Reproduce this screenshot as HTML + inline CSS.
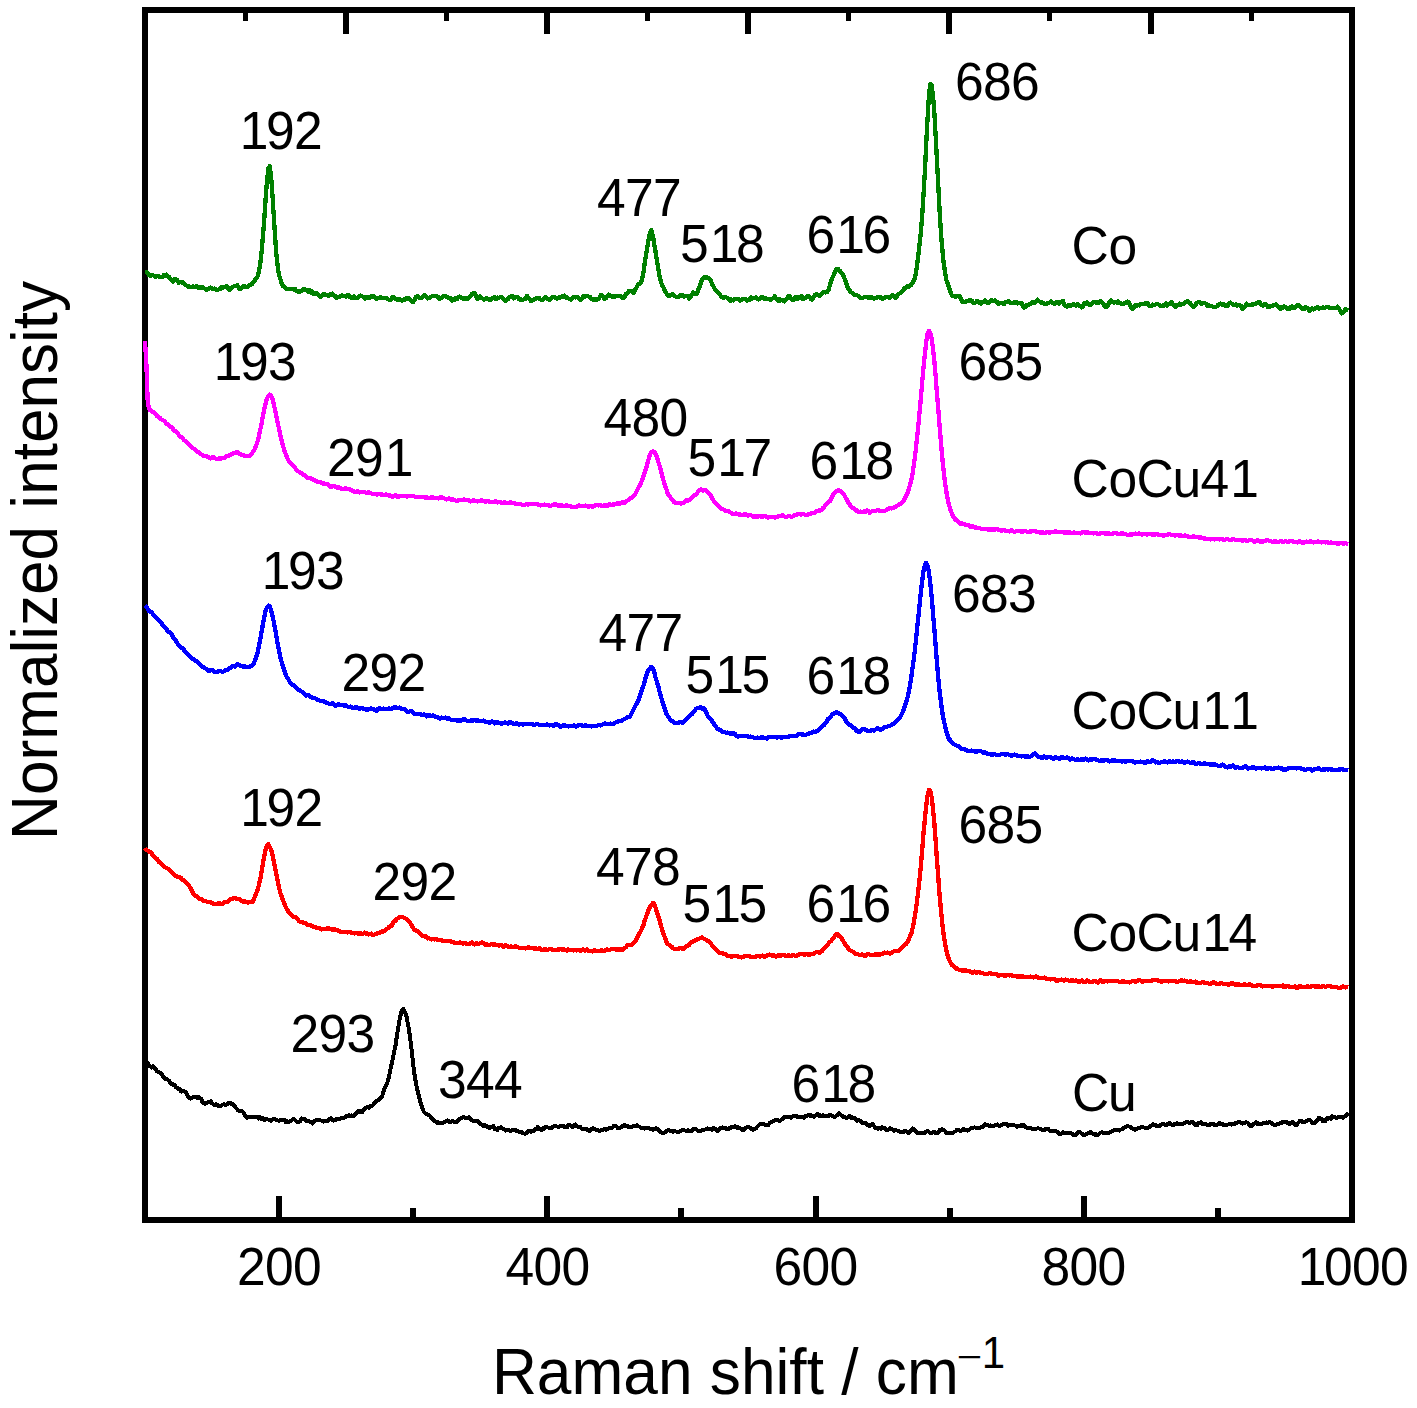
<!DOCTYPE html>
<html lang="en">
<head>
<meta charset="utf-8">
<title>Raman spectra</title>
<style>
html,body{margin:0;padding:0;background:#fff;}
body{width:1417px;height:1408px;overflow:hidden;font-family:"Liberation Sans",sans-serif;}
svg{display:block;}
</style>
</head>
<body>
<svg width="1417" height="1408" viewBox="0 0 1417 1408">
<rect width="1417" height="1408" fill="#fff"/>
<rect x="145" y="10" width="1207" height="1210" fill="none" stroke="#000" stroke-width="6"/>
<g fill="#000" shape-rendering="crispEdges"><rect x="243.1" y="12" width="5" height="9"/><rect x="343.1" y="12" width="6" height="22"/><rect x="444.1" y="12" width="5" height="9"/><rect x="544.2" y="12" width="6" height="22"/><rect x="645.2" y="12" width="5" height="9"/><rect x="745.3" y="12" width="6" height="22"/><rect x="846.4" y="12" width="5" height="9"/><rect x="946.4" y="12" width="6" height="22"/><rect x="1047.4" y="12" width="5" height="9"/><rect x="1147.5" y="12" width="6" height="22"/><rect x="1248.5" y="12" width="5" height="9"/><rect x="276.1" y="1196" width="6" height="22"/><rect x="410.2" y="1208" width="6" height="10"/><rect x="544.3" y="1196" width="6" height="22"/><rect x="678.4" y="1208" width="6" height="10"/><rect x="812.5" y="1196" width="6" height="22"/><rect x="946.6" y="1208" width="6" height="10"/><rect x="1080.7" y="1196" width="6" height="22"/><rect x="1214.8" y="1208" width="6" height="10"/></g>
<g fill="none" stroke-linejoin="round" stroke-linecap="butt" shape-rendering="crispEdges">
<path stroke="#000000" stroke-width="4.0" d="M145.0 1059.2L146.3 1061.5L147.7 1063.2L149.0 1065.5L150.4 1066.5L151.7 1067.5L153.0 1066.4L154.4 1067.9L155.7 1068.5L157.1 1071.5L158.4 1071.9L159.7 1072.4L161.1 1073.1L162.4 1074.8L163.8 1077.7L165.1 1078.7L166.4 1078.8L167.8 1079.8L169.1 1080.7L170.5 1083.6L171.8 1083.7L173.1 1084.7L174.5 1085.0L175.8 1087.1L177.2 1087.7L178.5 1089.0L179.8 1088.8L181.2 1091.6L182.5 1091.3L183.9 1091.4L185.2 1091.6L186.5 1093.3L187.9 1096.4L189.2 1098.0L190.6 1098.6L191.9 1097.8L193.2 1097.1L194.6 1097.1L195.9 1097.3L197.3 1098.0L198.6 1097.1L199.9 1098.3L201.3 1098.9L202.6 1102.6L204.0 1103.5L205.3 1103.7L206.6 1102.9L208.0 1102.0L209.3 1102.4L210.7 1101.2L212.0 1103.3L213.3 1104.3L214.7 1105.1L216.0 1104.4L217.4 1104.8L218.7 1106.1L220.0 1106.5L221.4 1105.4L222.7 1104.6L224.1 1104.3L225.4 1105.1L226.7 1104.6L228.1 1103.4L229.4 1103.1L230.8 1102.8L232.1 1104.3L233.4 1104.4L234.8 1106.5L236.1 1108.2L237.5 1109.7L238.8 1111.0L240.1 1110.5L241.5 1110.8L242.8 1111.7L244.2 1114.1L245.5 1116.2L246.8 1117.8L248.2 1117.5L249.5 1117.2L250.9 1116.9L252.2 1117.1L253.5 1117.4L254.9 1116.5L256.2 1117.5L257.6 1117.2L258.9 1118.5L260.2 1117.3L261.6 1119.0L262.9 1118.3L264.3 1120.0L265.6 1118.6L266.9 1119.2L268.3 1119.6L269.6 1120.2L271.0 1120.7L272.3 1119.7L273.6 1118.9L275.0 1119.1L276.3 1119.7L277.7 1120.5L279.0 1120.8L280.3 1120.0L281.7 1120.1L283.0 1119.8L284.4 1119.9L285.7 1122.0L287.0 1121.1L288.4 1122.0L289.7 1121.2L291.1 1120.9L292.4 1119.4L293.7 1119.1L295.1 1120.1L296.4 1121.4L297.8 1121.8L299.1 1121.9L300.4 1121.0L301.8 1118.5L303.1 1118.9L304.5 1119.0L305.8 1120.9L307.1 1120.9L308.5 1120.6L309.8 1121.5L311.2 1122.0L312.5 1123.4L313.8 1121.6L315.2 1120.6L316.5 1119.7L317.9 1120.2L319.2 1119.7L320.5 1120.3L321.9 1120.7L323.2 1121.6L324.6 1120.9L325.9 1121.5L327.2 1121.4L328.6 1119.9L329.9 1118.6L331.3 1118.3L332.6 1120.5L333.9 1120.5L335.3 1120.2L336.6 1119.0L338.0 1119.4L339.3 1119.0L340.6 1118.7L342.0 1117.5L343.3 1117.8L344.7 1117.4L346.0 1116.4L347.3 1115.9L348.7 1115.3L350.0 1116.0L351.4 1115.3L352.7 1115.9L354.0 1115.7L355.4 1114.5L356.7 1112.9L358.1 1110.8L359.4 1111.6L360.7 1111.3L362.1 1112.3L363.4 1110.4L364.8 1108.2L366.1 1107.6L367.4 1107.2L368.8 1107.9L370.1 1106.2L371.5 1105.8L372.8 1105.2L374.1 1103.3L375.5 1102.5L376.8 1100.7L378.2 1100.0L379.5 1098.9L380.8 1098.0L382.2 1095.9L383.5 1091.2L384.9 1087.8L386.2 1085.0L387.5 1082.2L388.9 1076.8L390.2 1070.7L391.6 1064.0L392.9 1058.1L394.2 1051.7L395.6 1045.0L396.9 1036.0L398.3 1027.4L399.6 1019.5L400.9 1013.5L402.3 1009.4L403.5 1009.2L403.6 1009.7L405.0 1012.2L406.3 1015.3L407.6 1022.4L409.0 1029.6L410.3 1039.6L411.7 1050.5L413.0 1063.0L414.3 1073.3L415.7 1081.7L417.0 1088.3L418.4 1093.9L419.7 1099.1L421.0 1104.2L422.4 1108.0L423.7 1111.7L425.1 1113.1L426.4 1114.3L427.7 1114.6L429.1 1115.2L430.4 1116.3L431.8 1118.3L433.1 1119.7L434.4 1121.2L435.8 1121.5L437.1 1122.7L438.5 1122.5L439.8 1122.9L441.1 1122.5L442.5 1123.0L443.8 1122.5L445.2 1121.5L446.5 1121.0L447.8 1120.5L449.2 1121.7L450.5 1121.7L451.9 1121.4L453.2 1121.3L454.5 1122.0L455.9 1122.1L457.2 1121.8L458.6 1120.1L459.9 1118.9L461.2 1117.9L462.6 1117.5L463.9 1117.1L465.3 1117.8L466.6 1117.8L467.9 1117.7L469.3 1117.3L470.6 1119.0L472.0 1120.3L473.3 1121.4L474.6 1120.7L476.0 1121.1L477.3 1120.7L478.7 1121.6L480.0 1123.8L481.3 1124.2L482.7 1125.9L484.0 1124.7L485.4 1125.8L486.7 1125.8L488.0 1127.2L489.4 1127.9L490.7 1126.7L492.1 1126.8L493.4 1126.2L494.7 1129.1L496.1 1129.0L497.4 1130.0L498.8 1127.9L500.1 1127.9L501.4 1127.2L502.8 1128.8L504.1 1129.2L505.5 1130.6L506.8 1129.8L508.1 1129.9L509.5 1130.6L510.8 1130.7L512.2 1130.1L513.5 1129.7L514.8 1129.7L516.2 1130.7L517.5 1131.2L518.9 1131.6L520.2 1132.5L521.5 1131.6L522.9 1133.2L524.2 1133.5L525.6 1133.7L526.9 1132.6L528.2 1131.1L529.6 1131.3L530.9 1131.9L532.3 1131.2L533.6 1131.3L534.9 1129.3L536.3 1129.3L537.6 1127.2L539.0 1129.1L540.3 1129.4L541.6 1130.4L543.0 1128.4L544.3 1128.8L545.7 1127.0L547.0 1127.2L548.3 1127.6L549.7 1128.4L551.0 1128.2L552.4 1127.0L553.7 1126.5L555.0 1126.3L556.4 1126.3L557.7 1126.8L559.1 1126.9L560.4 1126.0L561.7 1126.0L563.1 1125.8L564.4 1127.0L565.8 1127.3L567.1 1127.2L568.4 1124.9L569.8 1125.0L571.1 1125.8L572.5 1127.0L573.8 1125.5L575.1 1124.5L576.5 1125.9L577.8 1126.7L579.2 1127.4L580.5 1127.2L581.8 1128.9L583.2 1129.4L584.5 1129.4L585.9 1128.5L587.2 1129.7L588.5 1130.6L589.9 1131.1L591.2 1129.3L592.6 1128.3L593.9 1128.8L595.2 1129.3L596.6 1130.3L597.9 1130.2L599.3 1130.7L600.6 1130.5L601.9 1130.4L603.3 1129.5L604.6 1128.6L606.0 1129.6L607.3 1129.1L608.6 1128.7L610.0 1127.6L611.3 1128.0L612.7 1127.5L614.0 1125.7L615.3 1125.9L616.7 1126.8L618.0 1128.3L619.4 1127.8L620.7 1127.7L622.0 1126.0L623.4 1126.0L624.7 1124.9L626.1 1125.7L627.4 1126.1L628.7 1127.3L630.1 1126.7L631.4 1127.1L632.8 1126.3L634.1 1126.5L635.4 1125.7L636.8 1125.3L638.1 1126.2L639.5 1126.7L640.8 1127.8L642.1 1128.3L643.5 1128.2L644.8 1128.6L646.2 1127.6L647.5 1128.1L648.8 1127.8L650.2 1128.7L651.5 1128.9L652.9 1129.8L654.2 1129.2L655.5 1128.5L656.9 1128.4L658.2 1129.9L659.6 1131.3L660.9 1132.2L662.2 1132.8L663.6 1133.0L664.9 1132.5L666.3 1131.1L667.6 1130.2L668.9 1129.9L670.3 1130.7L671.6 1131.4L673.0 1131.6L674.3 1131.3L675.6 1131.5L677.0 1131.6L678.3 1131.8L679.7 1131.5L681.0 1130.9L682.3 1130.0L683.7 1130.0L685.0 1130.5L686.4 1130.9L687.7 1130.2L689.0 1131.2L690.4 1130.8L691.7 1130.8L693.1 1129.4L694.4 1129.0L695.7 1129.1L697.1 1130.0L698.4 1131.2L699.8 1131.4L701.1 1130.5L702.4 1129.9L703.8 1130.0L705.1 1129.5L706.5 1129.0L707.8 1128.4L709.1 1129.0L710.5 1129.4L711.8 1129.7L713.2 1127.9L714.5 1128.4L715.8 1129.4L717.2 1131.4L718.5 1130.4L719.9 1128.4L721.2 1127.7L722.5 1127.3L723.9 1128.2L725.2 1127.7L726.6 1128.9L727.9 1129.2L729.2 1128.3L730.6 1127.8L731.9 1126.5L733.3 1126.9L734.6 1126.3L735.9 1126.5L737.3 1128.0L738.6 1127.4L740.0 1128.2L741.3 1128.7L742.6 1130.0L744.0 1129.6L745.3 1128.3L746.7 1127.1L748.0 1127.1L749.3 1127.2L750.7 1128.4L752.0 1129.5L753.4 1129.6L754.7 1129.2L756.0 1128.3L757.4 1126.7L758.7 1125.4L760.1 1123.8L761.4 1123.8L762.7 1124.5L764.1 1124.0L765.4 1125.0L766.8 1125.0L768.1 1125.2L769.4 1123.3L770.8 1122.3L772.1 1121.8L773.5 1120.9L774.8 1120.3L776.1 1119.8L777.5 1120.2L778.8 1120.6L780.2 1120.6L781.5 1119.7L782.8 1118.5L784.2 1116.9L785.5 1117.4L786.9 1116.5L788.2 1117.3L789.5 1116.9L790.9 1117.8L792.2 1116.9L793.6 1115.6L794.9 1115.9L796.2 1115.7L797.6 1117.4L798.9 1116.5L800.3 1117.0L801.6 1117.3L802.9 1117.3L804.3 1117.7L805.6 1115.6L807.0 1116.0L808.3 1114.9L809.6 1115.8L811.0 1115.2L812.3 1115.6L813.7 1116.7L815.0 1115.6L816.3 1115.4L817.7 1113.9L819.0 1115.8L820.4 1115.5L821.7 1116.2L823.0 1115.3L824.4 1116.0L825.7 1116.4L827.1 1116.5L828.4 1116.1L829.7 1114.7L831.1 1115.2L832.4 1115.8L833.8 1116.5L835.1 1117.1L836.4 1115.4L837.8 1114.7L839.1 1113.3L840.5 1114.4L841.8 1115.7L843.1 1116.7L844.5 1117.1L845.8 1117.7L847.2 1117.6L848.5 1117.1L849.8 1116.0L851.2 1117.8L852.5 1117.4L853.9 1118.4L855.2 1118.4L856.5 1120.6L857.9 1120.6L859.2 1120.2L860.6 1121.0L861.9 1122.8L863.2 1122.7L864.6 1123.2L865.9 1123.1L867.3 1124.9L868.6 1125.7L869.9 1125.7L871.3 1124.5L872.6 1124.2L874.0 1125.9L875.3 1127.7L876.6 1127.9L878.0 1128.7L879.3 1128.0L880.7 1128.8L882.0 1127.3L883.3 1128.4L884.7 1128.2L886.0 1129.9L887.4 1129.6L888.7 1129.5L890.0 1127.9L891.4 1129.1L892.7 1129.4L894.1 1130.9L895.4 1130.1L896.7 1130.4L898.1 1130.9L899.4 1131.6L900.8 1132.4L902.1 1132.1L903.4 1132.1L904.8 1130.8L906.1 1131.2L907.5 1131.6L908.8 1133.3L910.1 1131.5L911.5 1130.4L912.8 1128.5L914.2 1129.3L915.5 1131.0L916.8 1132.8L918.2 1133.4L919.5 1132.9L920.9 1133.0L922.2 1132.9L923.5 1133.1L924.9 1132.8L926.2 1131.6L927.6 1131.2L928.9 1132.0L930.2 1133.1L931.6 1133.3L932.9 1132.1L934.3 1132.1L935.6 1132.9L936.9 1133.1L938.3 1132.8L939.6 1130.1L941.0 1129.9L942.3 1129.3L943.6 1130.2L945.0 1131.0L946.3 1132.7L947.7 1132.6L949.0 1132.7L950.3 1132.5L951.7 1133.2L953.0 1133.1L954.4 1131.7L955.7 1131.3L957.0 1129.7L958.4 1129.8L959.7 1130.9L961.1 1130.7L962.4 1130.4L963.7 1129.0L965.1 1129.6L966.4 1129.8L967.8 1130.6L969.1 1129.6L970.4 1128.7L971.8 1127.5L973.1 1127.6L974.5 1127.4L975.8 1127.6L977.1 1128.3L978.5 1128.2L979.8 1127.7L981.2 1127.1L982.5 1126.8L983.8 1126.0L985.2 1124.2L986.5 1124.7L987.9 1125.4L989.2 1125.8L990.5 1125.5L991.9 1125.9L993.2 1126.5L994.6 1125.6L995.9 1124.8L997.2 1124.4L998.6 1125.7L999.9 1125.7L1001.3 1125.2L1002.6 1124.6L1003.9 1123.7L1005.3 1124.1L1006.6 1124.1L1008.0 1125.6L1009.3 1125.1L1010.6 1125.3L1012.0 1124.5L1013.3 1124.6L1014.7 1125.4L1016.0 1125.8L1017.3 1126.9L1018.7 1125.9L1020.0 1126.4L1021.4 1125.1L1022.7 1125.7L1024.0 1125.4L1025.4 1127.0L1026.7 1127.5L1028.1 1127.9L1029.4 1128.2L1030.7 1128.3L1032.1 1128.9L1033.4 1129.0L1034.8 1129.0L1036.1 1128.6L1037.4 1128.5L1038.8 1128.4L1040.1 1128.9L1041.5 1129.6L1042.8 1130.5L1044.1 1130.2L1045.5 1128.9L1046.8 1128.5L1048.2 1128.9L1049.5 1130.6L1050.8 1130.6L1052.2 1130.8L1053.5 1130.8L1054.9 1131.0L1056.2 1131.2L1057.5 1132.1L1058.9 1133.6L1060.2 1134.3L1061.6 1133.6L1062.9 1132.3L1064.2 1132.5L1065.6 1132.6L1066.9 1133.5L1068.3 1133.1L1069.6 1133.2L1070.9 1133.1L1072.3 1133.8L1073.6 1134.9L1075.0 1135.4L1076.3 1134.3L1077.6 1132.9L1079.0 1131.8L1080.3 1132.4L1081.7 1133.4L1083.0 1134.7L1084.3 1134.8L1085.7 1134.6L1087.0 1133.9L1088.4 1133.3L1089.7 1132.2L1091.0 1132.0L1092.4 1133.7L1093.7 1133.6L1095.1 1134.7L1096.4 1134.5L1097.7 1135.0L1099.1 1134.0L1100.4 1132.6L1101.8 1132.4L1103.1 1132.6L1104.4 1132.8L1105.8 1133.2L1107.1 1133.3L1108.5 1133.2L1109.8 1132.5L1111.1 1131.5L1112.5 1131.2L1113.8 1130.1L1115.2 1130.1L1116.5 1129.8L1117.8 1129.7L1119.2 1130.6L1120.5 1129.6L1121.9 1129.4L1123.2 1128.1L1124.5 1127.3L1125.9 1127.2L1127.2 1125.9L1128.6 1126.4L1129.9 1126.7L1131.2 1127.7L1132.6 1128.8L1133.9 1129.3L1135.3 1129.7L1136.6 1129.2L1137.9 1128.3L1139.3 1128.1L1140.6 1127.3L1142.0 1127.0L1143.3 1127.2L1144.6 1127.8L1146.0 1128.2L1147.3 1127.6L1148.7 1127.5L1150.0 1126.4L1151.3 1125.7L1152.7 1124.3L1154.0 1125.1L1155.4 1124.6L1156.7 1126.1L1158.0 1126.2L1159.4 1126.0L1160.7 1125.0L1162.1 1123.8L1163.4 1124.2L1164.7 1124.4L1166.1 1125.3L1167.4 1123.9L1168.8 1123.3L1170.1 1123.3L1171.4 1124.6L1172.8 1125.5L1174.1 1124.2L1175.5 1124.3L1176.8 1123.1L1178.1 1123.9L1179.5 1123.8L1180.8 1124.5L1182.2 1124.0L1183.5 1123.8L1184.8 1122.6L1186.2 1122.0L1187.5 1122.2L1188.9 1122.8L1190.2 1122.7L1191.5 1121.8L1192.9 1121.8L1194.2 1123.8L1195.6 1124.9L1196.9 1125.4L1198.2 1123.3L1199.6 1122.6L1200.9 1122.4L1202.3 1123.8L1203.6 1124.1L1204.9 1123.7L1206.3 1124.5L1207.6 1125.2L1209.0 1125.3L1210.3 1123.6L1211.6 1124.0L1213.0 1123.7L1214.3 1125.1L1215.7 1125.0L1217.0 1124.8L1218.3 1124.2L1219.7 1122.8L1221.0 1123.8L1222.4 1123.8L1223.7 1125.2L1225.0 1125.3L1226.4 1125.1L1227.7 1124.6L1229.1 1124.1L1230.4 1123.9L1231.7 1124.6L1233.1 1124.3L1234.4 1124.2L1235.8 1122.9L1237.1 1122.8L1238.4 1121.8L1239.8 1122.4L1241.1 1122.6L1242.5 1123.6L1243.8 1122.7L1245.1 1122.6L1246.5 1122.3L1247.8 1122.7L1249.2 1124.8L1250.5 1125.9L1251.8 1126.3L1253.2 1123.9L1254.5 1123.4L1255.9 1122.2L1257.2 1123.7L1258.5 1123.5L1259.9 1124.3L1261.2 1123.8L1262.6 1123.6L1263.9 1122.6L1265.2 1123.0L1266.6 1122.5L1267.9 1122.7L1269.3 1122.2L1270.6 1122.6L1271.9 1123.5L1273.3 1124.3L1274.6 1124.8L1276.0 1124.8L1277.3 1124.1L1278.6 1124.4L1280.0 1123.1L1281.3 1123.2L1282.7 1122.0L1284.0 1122.3L1285.3 1122.0L1286.7 1122.3L1288.0 1123.3L1289.4 1123.9L1290.7 1122.6L1292.0 1122.1L1293.4 1122.5L1294.7 1124.4L1296.1 1125.2L1297.4 1123.9L1298.7 1122.3L1300.1 1120.6L1301.4 1120.8L1302.8 1122.2L1304.1 1122.3L1305.4 1121.5L1306.8 1121.0L1308.1 1120.2L1309.5 1120.0L1310.8 1120.7L1312.1 1123.0L1313.5 1123.0L1314.8 1123.0L1316.2 1121.1L1317.5 1120.5L1318.8 1117.8L1320.2 1118.6L1321.5 1118.7L1322.9 1121.4L1324.2 1120.8L1325.5 1121.0L1326.9 1118.2L1328.2 1118.7L1329.6 1118.2L1330.9 1119.0L1332.2 1116.4L1333.6 1117.0L1334.9 1117.4L1336.3 1118.2L1337.6 1117.4L1338.9 1116.7L1340.3 1117.4L1341.6 1117.2L1343.0 1117.7L1344.3 1116.6L1345.6 1115.9L1347.0 1114.2L1348.3 1112.5"/>
<path stroke="#ff0000" stroke-width="4.3" d="M145.0 847.8L146.3 850.1L147.7 850.6L149.0 851.4L150.4 852.2L151.7 853.4L153.0 855.6L154.4 857.3L155.7 857.9L157.1 859.1L158.4 861.4L159.7 862.7L161.1 863.1L162.4 865.0L163.8 866.6L165.1 867.3L166.4 868.0L167.8 868.6L169.1 869.5L170.5 871.0L171.8 872.4L173.1 873.7L174.5 874.9L175.8 875.8L177.2 876.6L178.5 877.0L179.8 877.0L181.2 878.2L182.5 879.7L183.9 880.7L185.2 882.1L186.5 883.1L187.9 884.1L189.2 886.0L190.6 888.4L191.9 890.6L193.2 893.2L194.6 895.3L195.9 895.8L197.3 896.8L198.6 898.6L199.9 899.0L201.3 899.2L202.6 900.5L204.0 901.2L205.3 900.8L206.6 901.5L208.0 902.4L209.3 902.1L210.7 902.4L212.0 903.2L213.3 903.7L214.7 903.7L216.0 904.4L217.4 904.2L218.7 903.2L220.0 903.6L221.4 903.9L222.7 903.7L224.1 902.5L225.4 901.9L226.7 902.0L228.1 901.6L229.4 900.3L230.8 899.1L232.1 899.0L233.4 898.0L234.8 897.7L236.1 898.9L237.5 899.2L238.8 898.9L240.1 899.9L241.5 901.1L242.8 901.6L244.2 901.4L245.5 901.4L246.8 902.4L248.2 902.4L249.5 901.7L250.9 902.0L252.2 902.3L253.5 900.3L254.9 896.6L256.2 893.5L257.6 890.0L258.9 885.1L260.2 879.3L261.6 871.9L262.9 863.6L264.3 856.4L265.6 850.0L266.9 845.7L268.3 844.1L268.6 845.3L269.6 847.0L271.0 849.1L272.3 853.7L273.6 860.2L275.0 866.9L276.3 873.7L277.7 880.6L279.0 887.3L280.3 892.8L281.7 896.8L283.0 900.4L284.4 903.5L285.7 906.8L287.0 909.4L288.4 911.8L289.7 913.3L291.1 914.7L292.4 916.2L293.7 916.9L295.1 917.1L296.4 917.5L297.8 919.5L299.1 921.3L300.4 921.8L301.8 922.2L303.1 922.6L304.5 922.8L305.8 923.3L307.1 924.4L308.5 925.3L309.8 925.3L311.2 925.5L312.5 926.3L313.8 927.0L315.2 926.8L316.5 927.7L317.9 928.4L319.2 928.0L320.5 928.8L321.9 929.4L323.2 929.0L324.6 929.0L325.9 928.8L327.2 928.5L328.6 928.2L329.9 929.1L331.3 929.4L332.6 929.4L333.9 930.0L335.3 929.5L336.6 929.9L338.0 930.6L339.3 931.1L340.6 931.9L342.0 932.0L343.3 931.9L344.7 931.8L346.0 931.9L347.3 932.4L348.7 932.2L350.0 932.3L351.4 932.7L352.7 933.0L354.0 933.4L355.4 933.3L356.7 933.0L358.1 933.6L359.4 933.4L360.7 932.9L362.1 934.3L363.4 933.5L364.8 932.6L366.1 934.0L367.4 933.6L368.8 934.4L370.1 934.0L371.5 933.5L372.8 935.1L374.1 934.7L375.5 933.9L376.8 933.5L378.2 932.9L379.5 932.8L380.8 932.3L382.2 931.3L383.5 931.6L384.9 930.5L386.2 929.1L387.5 928.6L388.9 927.1L390.2 926.3L391.6 925.7L392.9 923.2L394.2 921.6L395.6 920.5L396.9 918.9L398.3 918.1L399.6 917.2L400.9 917.0L402.3 916.9L402.3 916.9L403.6 917.5L405.0 918.1L406.3 919.0L407.6 919.8L409.0 921.1L410.3 923.1L411.7 925.6L413.0 927.8L414.3 929.5L415.7 930.2L417.0 930.9L418.4 932.2L419.7 933.4L421.0 934.8L422.4 936.1L423.7 935.9L425.1 936.0L426.4 937.5L427.7 938.4L429.1 938.3L430.4 939.1L431.8 939.4L433.1 939.1L434.4 939.4L435.8 939.0L437.1 939.7L438.5 940.2L439.8 939.9L441.1 940.2L442.5 940.9L443.8 941.3L445.2 941.2L446.5 940.7L447.8 940.8L449.2 941.0L450.5 941.3L451.9 942.1L453.2 942.1L454.5 942.9L455.9 943.2L457.2 942.8L458.6 942.7L459.9 942.5L461.2 942.9L462.6 943.6L463.9 942.8L465.3 942.8L466.6 943.7L467.9 943.7L469.3 943.8L470.6 943.0L472.0 942.5L473.3 943.8L474.6 944.5L476.0 943.3L477.3 943.4L478.7 943.9L480.0 943.2L481.3 942.5L482.7 942.7L484.0 943.9L485.4 944.6L486.7 944.5L488.0 944.8L489.4 945.2L490.7 944.4L492.1 944.1L493.4 944.8L494.7 944.5L496.1 944.7L497.4 945.3L498.8 945.5L500.1 945.1L501.4 945.2L502.8 946.7L504.1 946.6L505.5 945.2L506.8 945.9L508.1 946.9L509.5 947.1L510.8 946.5L512.2 946.8L513.5 947.1L514.8 946.4L516.2 946.5L517.5 947.1L518.9 947.7L520.2 948.1L521.5 947.9L522.9 948.1L524.2 948.3L525.6 948.4L526.9 947.9L528.2 947.0L529.6 948.0L530.9 948.1L532.3 947.8L533.6 948.4L534.9 948.4L536.3 948.3L537.6 949.2L539.0 948.4L540.3 948.3L541.6 950.3L543.0 950.0L544.3 949.1L545.7 949.5L547.0 950.3L548.3 949.6L549.7 948.9L551.0 949.4L552.4 949.6L553.7 949.8L555.0 949.9L556.4 949.7L557.7 949.5L559.1 949.5L560.4 949.3L561.7 949.5L563.1 949.8L564.4 949.4L565.8 950.1L567.1 950.6L568.4 949.4L569.8 950.0L571.1 950.3L572.5 950.1L573.8 950.4L575.1 950.3L576.5 950.4L577.8 950.1L579.2 950.1L580.5 951.1L581.8 950.3L583.2 949.5L584.5 950.6L585.9 950.1L587.2 949.4L588.5 950.7L589.9 951.1L591.2 951.1L592.6 951.4L593.9 950.6L595.2 950.6L596.6 950.8L597.9 951.1L599.3 950.9L600.6 950.5L601.9 950.4L603.3 950.8L604.6 951.0L606.0 950.0L607.3 949.4L608.6 949.8L610.0 949.7L611.3 949.3L612.7 949.1L614.0 949.0L615.3 949.4L616.7 949.7L618.0 949.4L619.4 949.6L620.7 949.3L622.0 949.4L623.4 949.5L624.7 948.1L626.1 947.0L627.4 945.2L628.7 944.7L630.1 945.1L631.4 945.0L632.8 943.4L634.1 942.1L635.4 941.0L636.8 938.7L638.1 935.7L639.5 933.1L640.8 931.1L642.1 928.1L643.5 924.8L644.8 920.2L646.2 916.5L647.5 913.2L648.8 909.4L650.2 906.6L651.5 904.9L652.6 904.0L652.9 903.1L654.2 903.7L655.5 907.4L656.9 912.1L658.2 916.1L659.6 920.5L660.9 925.3L662.2 930.1L663.6 934.0L664.9 937.3L666.3 941.3L667.6 944.0L668.9 944.8L670.3 945.6L671.6 946.6L673.0 948.1L674.3 949.1L675.6 949.0L677.0 948.8L678.3 948.7L679.7 948.1L681.0 948.4L682.3 948.6L683.7 948.6L685.0 947.6L686.4 945.9L687.7 945.8L689.0 945.0L690.4 943.2L691.7 941.9L693.1 941.5L694.4 941.0L695.7 940.0L697.1 939.4L698.4 939.1L699.8 938.3L701.1 937.7L702.0 937.5L702.4 937.8L703.8 938.7L705.1 939.2L706.5 940.0L707.8 941.0L709.1 941.5L710.5 942.7L711.8 944.9L713.2 946.9L714.5 948.5L715.8 949.6L717.2 950.5L718.5 952.0L719.9 953.0L721.2 953.0L722.5 953.2L723.9 954.1L725.2 954.3L726.6 954.8L727.9 955.9L729.2 955.8L730.6 956.4L731.9 956.7L733.3 955.9L734.6 956.1L735.9 955.9L737.3 956.3L738.6 956.6L740.0 957.1L741.3 957.4L742.6 956.9L744.0 956.6L745.3 955.8L746.7 955.8L748.0 956.0L749.3 956.4L750.7 956.6L752.0 956.9L753.4 957.1L754.7 956.7L756.0 956.5L757.4 956.1L758.7 956.2L760.1 956.5L761.4 955.8L762.7 955.6L764.1 956.9L765.4 956.6L766.8 955.4L768.1 955.0L769.4 954.5L770.8 955.2L772.1 955.7L773.5 955.3L774.8 956.0L776.1 956.8L777.5 955.7L778.8 955.1L780.2 955.7L781.5 955.4L782.8 955.3L784.2 955.2L785.5 955.6L786.9 955.8L788.2 955.3L789.5 955.6L790.9 955.8L792.2 955.5L793.6 955.2L794.9 955.7L796.2 955.8L797.6 955.0L798.9 954.4L800.3 954.3L801.6 954.2L802.9 954.3L804.3 954.8L805.6 953.9L807.0 953.7L808.3 954.7L809.6 954.6L811.0 953.8L812.3 954.1L813.7 954.0L815.0 952.7L816.3 952.2L817.7 952.3L819.0 952.6L820.4 952.4L821.7 951.4L823.0 949.5L824.4 948.0L825.7 946.9L827.1 945.6L828.4 943.6L829.7 941.9L831.1 941.1L832.4 939.2L833.8 937.4L835.1 935.8L836.4 934.2L837.6 934.0L837.8 935.1L839.1 936.2L840.5 936.8L841.8 938.7L843.1 940.8L844.5 943.2L845.8 945.7L847.2 946.9L848.5 948.8L849.8 950.2L851.2 950.8L852.5 951.5L853.9 952.7L855.2 953.8L856.5 954.1L857.9 954.2L859.2 955.0L860.6 955.1L861.9 954.3L863.2 955.0L864.6 955.9L865.9 955.6L867.3 954.3L868.6 953.9L869.9 954.8L871.3 955.0L872.6 955.3L874.0 954.7L875.3 954.3L876.6 954.5L878.0 954.6L879.3 954.7L880.7 954.5L882.0 954.1L883.3 953.0L884.7 952.6L886.0 952.8L887.4 952.6L888.7 953.0L890.0 953.7L891.4 953.1L892.7 951.8L894.1 951.3L895.4 951.0L896.7 951.1L898.1 951.0L899.4 950.0L900.8 949.0L902.1 947.1L903.4 945.9L904.8 945.0L906.1 943.9L907.5 942.4L908.8 939.4L910.1 935.9L911.5 932.8L912.8 927.4L914.2 919.9L915.5 912.3L916.8 902.9L918.2 891.6L919.5 879.4L920.9 866.0L922.2 849.8L923.5 833.4L924.9 818.9L926.2 805.6L927.6 795.5L928.9 790.2L929.5 790.2L930.2 791.1L931.6 796.7L932.9 807.9L934.3 822.8L935.6 840.1L936.9 859.1L938.3 877.7L939.6 894.9L941.0 910.5L942.3 923.6L943.6 934.4L945.0 943.3L946.3 950.5L947.7 955.8L949.0 959.1L950.3 962.2L951.7 964.8L953.0 965.5L954.4 967.0L955.7 968.5L957.0 968.5L958.4 969.4L959.7 969.9L961.1 969.6L962.4 970.7L963.7 970.8L965.1 970.1L966.4 971.1L967.8 971.0L969.1 970.8L970.4 971.6L971.8 972.7L973.1 972.4L974.5 971.6L975.8 972.4L977.1 972.6L978.5 972.0L979.8 972.3L981.2 972.9L982.5 973.1L983.8 973.6L985.2 974.0L986.5 973.9L987.9 973.7L989.2 973.3L990.5 973.2L991.9 973.9L993.2 973.9L994.6 974.0L995.9 974.0L997.2 974.7L998.6 976.0L999.9 975.3L1001.3 974.7L1002.6 974.9L1003.9 975.4L1005.3 975.8L1006.6 975.4L1008.0 975.3L1009.3 975.4L1010.6 975.2L1012.0 975.5L1013.3 975.7L1014.7 975.8L1016.0 976.2L1017.3 976.6L1018.7 976.6L1020.0 976.7L1021.4 976.5L1022.7 976.4L1024.0 976.8L1025.4 976.7L1026.7 977.0L1028.1 977.4L1029.4 976.7L1030.7 976.6L1032.1 976.9L1033.4 977.4L1034.8 977.3L1036.1 976.5L1037.4 976.8L1038.8 978.0L1040.1 978.2L1041.5 977.8L1042.8 978.2L1044.1 977.6L1045.5 977.8L1046.8 978.9L1048.2 979.1L1049.5 979.3L1050.8 979.4L1052.2 979.1L1053.5 979.2L1054.9 979.5L1056.2 980.5L1057.5 980.6L1058.9 980.1L1060.2 979.8L1061.6 979.5L1062.9 980.4L1064.2 980.4L1065.6 979.6L1066.9 980.1L1068.3 980.4L1069.6 981.3L1070.9 980.6L1072.3 980.0L1073.6 981.3L1075.0 980.8L1076.3 980.3L1077.6 981.0L1079.0 982.0L1080.3 981.5L1081.7 980.3L1083.0 981.1L1084.3 982.3L1085.7 981.9L1087.0 980.4L1088.4 981.1L1089.7 981.9L1091.0 981.8L1092.4 981.9L1093.7 981.3L1095.1 981.1L1096.4 981.8L1097.7 982.6L1099.1 981.2L1100.4 980.2L1101.8 981.8L1103.1 982.0L1104.4 980.7L1105.8 980.9L1107.1 981.4L1108.5 981.3L1109.8 981.1L1111.1 981.0L1112.5 981.0L1113.8 981.3L1115.2 981.1L1116.5 980.9L1117.8 981.1L1119.2 981.8L1120.5 981.9L1121.9 981.4L1123.2 981.4L1124.5 981.6L1125.9 981.8L1127.2 981.8L1128.6 982.1L1129.9 982.4L1131.2 981.7L1132.6 981.0L1133.9 981.3L1135.3 981.7L1136.6 981.3L1137.9 980.5L1139.3 979.8L1140.6 980.5L1142.0 981.5L1143.3 981.7L1144.6 980.9L1146.0 980.9L1147.3 981.2L1148.7 981.0L1150.0 981.3L1151.3 980.8L1152.7 980.4L1154.0 979.9L1155.4 979.8L1156.7 979.9L1158.0 980.4L1159.4 981.2L1160.7 981.4L1162.1 981.5L1163.4 980.9L1164.7 980.9L1166.1 981.0L1167.4 981.1L1168.8 981.4L1170.1 980.8L1171.4 980.7L1172.8 981.1L1174.1 981.1L1175.5 981.4L1176.8 982.3L1178.1 981.8L1179.5 981.1L1180.8 980.4L1182.2 980.5L1183.5 981.3L1184.8 980.6L1186.2 980.9L1187.5 982.1L1188.9 981.8L1190.2 981.5L1191.5 981.5L1192.9 982.0L1194.2 981.9L1195.6 981.5L1196.9 983.0L1198.2 983.2L1199.6 982.7L1200.9 982.7L1202.3 982.2L1203.6 982.3L1204.9 983.0L1206.3 982.7L1207.6 982.8L1209.0 983.8L1210.3 984.1L1211.6 983.1L1213.0 982.4L1214.3 982.5L1215.7 983.3L1217.0 984.3L1218.3 984.3L1219.7 983.7L1221.0 983.1L1222.4 983.5L1223.7 984.1L1225.0 983.8L1226.4 983.9L1227.7 984.6L1229.1 984.7L1230.4 984.1L1231.7 983.2L1233.1 983.5L1234.4 984.5L1235.8 984.6L1237.1 984.4L1238.4 984.3L1239.8 984.8L1241.1 985.1L1242.5 984.9L1243.8 984.6L1245.1 984.3L1246.5 984.8L1247.8 984.7L1249.2 984.2L1250.5 984.6L1251.8 985.6L1253.2 985.8L1254.5 986.0L1255.9 985.9L1257.2 985.3L1258.5 984.8L1259.9 984.8L1261.2 985.9L1262.6 986.4L1263.9 986.1L1265.2 986.3L1266.6 986.1L1267.9 985.8L1269.3 985.9L1270.6 986.3L1271.9 986.4L1273.3 986.4L1274.6 986.3L1276.0 985.9L1277.3 985.8L1278.6 985.7L1280.0 986.3L1281.3 985.9L1282.7 985.4L1284.0 987.2L1285.3 987.2L1286.7 985.9L1288.0 986.0L1289.4 987.0L1290.7 987.0L1292.0 986.8L1293.4 986.9L1294.7 986.5L1296.1 987.8L1297.4 988.0L1298.7 986.5L1300.1 986.3L1301.4 986.7L1302.8 987.1L1304.1 987.3L1305.4 987.2L1306.8 986.3L1308.1 986.5L1309.5 987.0L1310.8 986.6L1312.1 986.2L1313.5 986.1L1314.8 986.4L1316.2 986.6L1317.5 986.4L1318.8 986.4L1320.2 987.1L1321.5 986.6L1322.9 986.3L1324.2 986.4L1325.5 987.1L1326.9 986.4L1328.2 985.9L1329.6 986.3L1330.9 986.3L1332.2 987.3L1333.6 987.2L1334.9 986.9L1336.3 986.9L1337.6 987.6L1338.9 988.3L1340.3 988.0L1341.6 987.1L1343.0 986.2L1344.3 987.2L1345.6 987.5L1347.0 987.0L1348.3 987.2"/>
<path stroke="#0000ff" stroke-width="4.3" d="M145.0 605.8L146.3 607.1L147.7 608.7L149.0 611.1L150.4 611.8L151.7 612.5L153.0 614.2L154.4 616.0L155.7 616.9L157.1 618.6L158.4 619.7L159.7 620.7L161.1 623.0L162.4 624.5L163.8 626.4L165.1 627.5L166.4 629.1L167.8 631.1L169.1 632.1L170.5 633.3L171.8 634.7L173.1 637.1L174.5 638.9L175.8 640.4L177.2 643.0L178.5 645.0L179.8 646.8L181.2 647.7L182.5 648.0L183.9 649.9L185.2 651.9L186.5 653.2L187.9 654.3L189.2 655.6L190.6 657.2L191.9 658.1L193.2 659.1L194.6 660.1L195.9 661.0L197.3 662.0L198.6 663.4L199.9 664.2L201.3 665.6L202.6 666.9L204.0 667.6L205.3 668.5L206.6 668.8L208.0 670.4L209.3 670.9L210.7 669.8L212.0 669.8L213.3 670.4L214.7 671.8L216.0 672.1L217.4 671.7L218.7 671.2L220.0 670.9L221.4 671.5L222.7 672.0L224.1 671.1L225.4 670.3L226.7 670.3L228.1 669.1L229.4 668.3L230.8 668.0L232.1 666.3L233.4 666.0L234.8 666.5L236.1 665.5L237.5 664.3L238.8 665.0L240.1 665.7L241.5 665.8L242.8 666.6L244.2 666.4L245.5 666.6L246.8 667.0L248.2 666.7L249.5 666.7L250.9 666.1L252.2 665.6L253.5 663.9L254.9 660.8L256.2 657.0L257.6 652.5L258.9 646.4L260.2 639.2L261.6 632.0L262.9 624.2L264.3 616.9L265.6 610.7L266.9 607.3L268.3 606.2L268.9 605.6L269.6 605.8L271.0 609.7L272.3 615.1L273.6 620.8L275.0 628.1L276.3 635.8L277.7 643.7L279.0 650.4L280.3 657.0L281.7 662.2L283.0 666.4L284.4 670.5L285.7 674.4L287.0 677.5L288.4 679.1L289.7 681.7L291.1 683.9L292.4 684.6L293.7 685.2L295.1 686.3L296.4 687.6L297.8 689.2L299.1 690.0L300.4 690.7L301.8 691.7L303.1 692.5L304.5 693.8L305.8 695.5L307.1 695.2L308.5 695.2L309.8 696.5L311.2 697.3L312.5 697.6L313.8 697.9L315.2 698.4L316.5 699.2L317.9 700.2L319.2 700.3L320.5 700.9L321.9 701.3L323.2 700.9L324.6 701.6L325.9 702.8L327.2 702.9L328.6 703.5L329.9 704.4L331.3 703.9L332.6 703.3L333.9 704.7L335.3 706.0L336.6 705.2L338.0 704.4L339.3 704.6L340.6 705.2L342.0 705.0L343.3 705.4L344.7 705.7L346.0 705.4L347.3 706.5L348.7 706.9L350.0 706.6L351.4 707.3L352.7 707.9L354.0 707.6L355.4 707.4L356.7 707.3L358.1 708.2L359.4 709.0L360.7 707.9L362.1 707.7L363.4 708.7L364.8 709.0L366.1 709.6L367.4 710.1L368.8 709.2L370.1 708.7L371.5 708.5L372.8 708.8L374.1 709.5L375.5 710.6L376.8 710.6L378.2 708.6L379.5 708.3L380.8 709.3L382.2 709.0L383.5 708.6L384.9 708.9L386.2 709.3L387.5 709.2L388.9 708.5L390.2 708.8L391.6 708.7L392.9 708.0L394.2 707.5L395.6 707.2L396.9 708.1L398.3 707.7L399.6 707.6L400.9 708.8L402.3 709.0L403.6 709.2L405.0 709.4L406.3 710.3L407.6 711.7L409.0 711.7L410.3 711.0L411.7 710.9L413.0 712.5L414.3 714.0L415.7 714.1L417.0 714.2L418.4 714.2L419.7 713.8L421.0 714.4L422.4 714.9L423.7 714.5L425.1 714.9L426.4 716.4L427.7 715.7L429.1 714.8L430.4 715.7L431.8 716.2L433.1 715.2L434.4 716.1L435.8 717.4L437.1 717.1L438.5 718.1L439.8 718.6L441.1 717.6L442.5 717.7L443.8 717.8L445.2 717.6L446.5 718.4L447.8 718.7L449.2 718.5L450.5 719.5L451.9 720.2L453.2 720.0L454.5 720.0L455.9 720.0L457.2 720.5L458.6 720.4L459.9 720.7L461.2 720.4L462.6 719.6L463.9 719.5L465.3 719.6L466.6 720.5L467.9 721.4L469.3 721.0L470.6 720.4L472.0 720.7L473.3 720.4L474.6 720.2L476.0 720.6L477.3 720.5L478.7 720.6L480.0 721.4L481.3 721.1L482.7 720.8L484.0 720.6L485.4 721.9L486.7 722.0L488.0 721.9L489.4 722.8L490.7 722.1L492.1 721.4L493.4 722.1L494.7 723.4L496.1 722.6L497.4 721.8L498.8 722.8L500.1 723.1L501.4 723.6L502.8 723.3L504.1 722.7L505.5 722.5L506.8 723.3L508.1 723.6L509.5 721.8L510.8 722.2L512.2 723.1L513.5 724.1L514.8 724.1L516.2 723.3L517.5 723.8L518.9 724.5L520.2 724.3L521.5 724.2L522.9 724.5L524.2 724.0L525.6 723.9L526.9 724.1L528.2 723.7L529.6 724.3L530.9 724.2L532.3 724.2L533.6 725.3L534.9 724.8L536.3 724.2L537.6 724.2L539.0 724.7L540.3 725.2L541.6 725.2L543.0 725.4L544.3 725.0L545.7 724.8L547.0 724.4L548.3 724.7L549.7 725.5L551.0 725.0L552.4 725.5L553.7 726.0L555.0 724.4L556.4 724.1L557.7 724.8L559.1 725.2L560.4 727.0L561.7 726.3L563.1 725.3L564.4 725.5L565.8 725.6L567.1 726.1L568.4 726.5L569.8 725.8L571.1 726.0L572.5 726.0L573.8 725.5L575.1 726.4L576.5 726.6L577.8 725.7L579.2 725.1L580.5 725.3L581.8 725.5L583.2 726.2L584.5 725.7L585.9 725.3L587.2 726.1L588.5 726.1L589.9 726.0L591.2 726.4L592.6 726.3L593.9 726.0L595.2 726.0L596.6 726.3L597.9 725.2L599.3 724.9L600.6 725.5L601.9 724.7L603.3 724.3L604.6 723.5L606.0 723.6L607.3 723.9L608.6 724.1L610.0 723.6L611.3 723.8L612.7 724.3L614.0 723.3L615.3 722.6L616.7 722.0L618.0 721.5L619.4 721.2L620.7 721.2L622.0 720.8L623.4 719.6L624.7 718.8L626.1 718.2L627.4 717.3L628.7 717.3L630.1 716.2L631.4 713.6L632.8 710.8L634.1 708.2L635.4 705.7L636.8 703.7L638.1 700.9L639.5 697.1L640.8 693.2L642.1 689.0L643.5 685.4L644.8 680.7L646.2 675.7L647.5 671.9L648.8 669.7L650.2 668.0L651.0 666.9L651.5 666.8L652.9 668.1L654.2 671.8L655.5 677.5L656.9 681.6L658.2 686.1L659.6 691.9L660.9 696.2L662.2 700.8L663.6 705.6L664.9 709.3L666.3 713.5L667.6 715.7L668.9 717.2L670.3 719.9L671.6 720.8L673.0 721.6L674.3 722.8L675.6 723.2L677.0 723.1L678.3 723.3L679.7 722.0L681.0 721.9L682.3 723.2L683.7 722.3L685.0 720.9L686.4 719.0L687.7 717.4L689.0 716.4L690.4 714.9L691.7 714.3L693.1 712.8L694.4 711.0L695.7 709.2L697.1 708.1L698.4 708.2L699.8 707.6L700.8 707.2L701.1 708.4L702.4 708.7L703.8 708.5L705.1 710.1L706.5 712.9L707.8 716.1L709.1 717.8L710.5 718.7L711.8 720.4L713.2 723.0L714.5 724.6L715.8 726.3L717.2 728.7L718.5 729.3L719.9 729.9L721.2 731.1L722.5 732.2L723.9 732.0L725.2 732.3L726.6 733.0L727.9 732.6L729.2 733.1L730.6 733.7L731.9 733.5L733.3 733.2L734.6 733.5L735.9 735.0L737.3 736.5L738.6 736.4L740.0 736.3L741.3 736.1L742.6 735.8L744.0 736.3L745.3 736.1L746.7 735.8L748.0 736.5L749.3 736.9L750.7 736.6L752.0 737.0L753.4 737.5L754.7 737.9L756.0 738.1L757.4 737.6L758.7 737.7L760.1 737.7L761.4 737.4L762.7 737.3L764.1 737.8L765.4 738.3L766.8 738.5L768.1 737.4L769.4 736.7L770.8 737.1L772.1 737.3L773.5 737.3L774.8 736.9L776.1 737.4L777.5 737.6L778.8 736.7L780.2 737.1L781.5 737.9L782.8 737.0L784.2 736.9L785.5 736.7L786.9 736.7L788.2 736.8L789.5 735.9L790.9 735.7L792.2 735.7L793.6 735.8L794.9 736.1L796.2 735.9L797.6 735.4L798.9 733.7L800.3 733.8L801.6 734.4L802.9 734.3L804.3 735.3L805.6 735.1L807.0 734.2L808.3 733.7L809.6 733.5L811.0 732.9L812.3 732.3L813.7 731.6L815.0 731.8L816.3 731.4L817.7 730.5L819.0 729.5L820.4 728.1L821.7 726.9L823.0 725.7L824.4 724.7L825.7 723.0L827.1 720.7L828.4 718.5L829.7 717.8L831.1 716.3L832.4 714.0L833.8 713.6L835.1 713.3L836.4 712.5L836.5 711.9L837.8 712.8L839.1 713.9L840.5 714.3L841.8 715.6L843.1 716.5L844.5 717.9L845.8 720.5L847.2 723.0L848.5 724.3L849.8 725.1L851.2 725.7L852.5 727.1L853.9 727.9L855.2 729.0L856.5 730.6L857.9 731.8L859.2 731.9L860.6 730.5L861.9 729.9L863.2 728.7L864.6 728.8L865.9 730.1L867.3 730.7L868.6 731.0L869.9 730.7L871.3 730.4L872.6 730.3L874.0 730.6L875.3 729.7L876.6 728.7L878.0 728.3L879.3 729.0L880.7 729.8L882.0 729.2L883.3 727.8L884.7 727.1L886.0 727.1L887.4 726.6L888.7 726.1L890.0 725.7L891.4 724.9L892.7 724.3L894.1 723.7L895.4 722.2L896.7 720.8L898.1 719.4L899.4 718.1L900.8 716.1L902.1 713.5L903.4 710.5L904.8 706.2L906.1 702.5L907.5 697.6L908.8 691.5L910.1 685.0L911.5 675.9L912.8 665.9L914.2 655.8L915.5 644.2L916.8 631.3L918.2 618.7L919.5 605.6L920.9 592.3L922.2 580.5L923.5 571.0L924.9 564.8L926.2 562.7L926.2 563.3L927.6 565.8L928.9 572.2L930.2 582.2L931.6 596.0L932.9 612.2L934.3 628.7L935.6 645.1L936.9 661.8L938.3 678.3L939.6 691.5L941.0 702.3L942.3 712.4L943.6 719.3L945.0 725.6L946.3 731.4L947.7 735.8L949.0 739.0L950.3 740.3L951.7 742.0L953.0 743.7L954.4 744.5L955.7 745.3L957.0 745.6L958.4 746.1L959.7 747.5L961.1 748.9L962.4 749.3L963.7 748.9L965.1 749.5L966.4 750.2L967.8 750.7L969.1 751.1L970.4 750.7L971.8 750.6L973.1 751.1L974.5 751.4L975.8 751.7L977.1 751.5L978.5 750.8L979.8 751.1L981.2 751.4L982.5 751.9L983.8 752.9L985.2 752.4L986.5 752.8L987.9 754.1L989.2 754.0L990.5 754.4L991.9 755.3L993.2 754.2L994.6 754.0L995.9 754.8L997.2 754.7L998.6 755.0L999.9 754.7L1001.3 754.1L1002.6 754.2L1003.9 754.2L1005.3 754.6L1006.6 754.4L1008.0 754.1L1009.3 755.1L1010.6 755.6L1012.0 755.6L1013.3 754.9L1014.7 754.5L1016.0 755.2L1017.3 755.6L1018.7 755.7L1020.0 756.1L1021.4 756.4L1022.7 756.1L1024.0 756.2L1025.4 756.6L1026.7 756.4L1028.1 756.6L1029.4 757.1L1030.7 756.5L1032.1 755.7L1033.4 754.4L1034.8 753.5L1036.1 754.5L1037.4 756.0L1038.8 757.1L1040.1 757.3L1041.5 757.6L1042.8 757.7L1044.1 756.3L1045.5 757.0L1046.8 758.0L1048.2 757.0L1049.5 757.0L1050.8 757.2L1052.2 758.2L1053.5 758.9L1054.9 757.4L1056.2 757.5L1057.5 758.0L1058.9 758.7L1060.2 758.5L1061.6 756.8L1062.9 757.4L1064.2 758.2L1065.6 758.1L1066.9 757.4L1068.3 757.9L1069.6 759.6L1070.9 758.6L1072.3 758.5L1073.6 759.2L1075.0 759.7L1076.3 760.2L1077.6 759.2L1079.0 759.6L1080.3 760.0L1081.7 759.3L1083.0 759.5L1084.3 759.6L1085.7 758.6L1087.0 759.8L1088.4 760.4L1089.7 759.4L1091.0 759.7L1092.4 759.4L1093.7 758.8L1095.1 759.3L1096.4 759.7L1097.7 760.0L1099.1 760.8L1100.4 760.6L1101.8 760.4L1103.1 760.9L1104.4 760.3L1105.8 760.2L1107.1 760.3L1108.5 760.7L1109.8 761.4L1111.1 761.0L1112.5 760.3L1113.8 760.4L1115.2 760.6L1116.5 760.9L1117.8 761.3L1119.2 760.7L1120.5 761.1L1121.9 761.8L1123.2 761.2L1124.5 761.4L1125.9 761.6L1127.2 761.0L1128.6 761.2L1129.9 761.0L1131.2 760.8L1132.6 761.1L1133.9 762.0L1135.3 762.7L1136.6 761.9L1137.9 762.0L1139.3 762.1L1140.6 761.6L1142.0 762.0L1143.3 762.0L1144.6 762.7L1146.0 762.7L1147.3 761.1L1148.7 761.6L1150.0 761.9L1151.3 761.3L1152.7 760.2L1154.0 760.7L1155.4 762.4L1156.7 762.3L1158.0 762.4L1159.4 762.8L1160.7 762.4L1162.1 762.1L1163.4 761.8L1164.7 761.2L1166.1 762.0L1167.4 762.4L1168.8 761.4L1170.1 761.4L1171.4 761.9L1172.8 761.4L1174.1 761.7L1175.5 761.9L1176.8 761.1L1178.1 760.8L1179.5 762.2L1180.8 762.1L1182.2 761.5L1183.5 762.4L1184.8 762.7L1186.2 762.0L1187.5 761.6L1188.9 762.3L1190.2 762.9L1191.5 762.7L1192.9 761.9L1194.2 762.7L1195.6 763.8L1196.9 763.7L1198.2 763.1L1199.6 763.3L1200.9 763.7L1202.3 764.0L1203.6 763.6L1204.9 763.4L1206.3 764.0L1207.6 763.7L1209.0 764.0L1210.3 764.6L1211.6 764.5L1213.0 764.8L1214.3 764.5L1215.7 764.5L1217.0 765.4L1218.3 765.7L1219.7 766.1L1221.0 765.6L1222.4 764.6L1223.7 765.4L1225.0 766.3L1226.4 767.2L1227.7 767.4L1229.1 766.2L1230.4 766.4L1231.7 766.5L1233.1 765.6L1234.4 767.1L1235.8 768.0L1237.1 767.2L1238.4 767.4L1239.8 767.9L1241.1 767.9L1242.5 767.7L1243.8 767.2L1245.1 766.1L1246.5 767.2L1247.8 768.5L1249.2 768.2L1250.5 767.7L1251.8 767.6L1253.2 767.2L1254.5 767.9L1255.9 768.5L1257.2 768.1L1258.5 768.0L1259.9 768.3L1261.2 768.4L1262.6 768.3L1263.9 767.7L1265.2 767.6L1266.6 769.1L1267.9 768.7L1269.3 767.8L1270.6 768.4L1271.9 768.9L1273.3 768.8L1274.6 767.8L1276.0 767.8L1277.3 768.0L1278.6 767.5L1280.0 768.2L1281.3 768.5L1282.7 768.7L1284.0 770.2L1285.3 770.2L1286.7 769.2L1288.0 768.5L1289.4 768.0L1290.7 767.9L1292.0 768.0L1293.4 768.0L1294.7 768.0L1296.1 768.4L1297.4 768.3L1298.7 767.8L1300.1 767.7L1301.4 768.6L1302.8 769.2L1304.1 769.5L1305.4 769.9L1306.8 769.4L1308.1 769.3L1309.5 768.8L1310.8 769.5L1312.1 770.7L1313.5 769.7L1314.8 768.7L1316.2 769.0L1317.5 768.7L1318.8 768.2L1320.2 769.4L1321.5 769.8L1322.9 769.3L1324.2 769.7L1325.5 769.5L1326.9 769.2L1328.2 769.5L1329.6 769.0L1330.9 769.5L1332.2 769.4L1333.6 770.1L1334.9 770.3L1336.3 770.3L1337.6 770.1L1338.9 769.6L1340.3 769.6L1341.6 768.8L1343.0 769.4L1344.3 770.2L1345.6 769.7L1347.0 769.9L1348.3 770.1"/>
<path stroke="#ff00ff" stroke-width="4.3" d="M145.0 341.4L146.3 361.8L147.7 401.2L149.0 408.8L150.4 410.4L151.7 411.3L153.0 412.3L154.4 412.5L155.7 414.1L157.1 416.1L158.4 416.9L159.7 417.7L161.1 419.2L162.4 420.1L163.8 420.6L165.1 421.9L166.4 423.7L167.8 424.4L169.1 425.6L170.5 427.0L171.8 427.4L173.1 429.2L174.5 430.8L175.8 431.1L177.2 432.3L178.5 434.4L179.8 436.3L181.2 437.1L182.5 438.2L183.9 440.0L185.2 441.0L186.5 442.2L187.9 443.7L189.2 444.7L190.6 445.7L191.9 447.1L193.2 448.4L194.6 449.2L195.9 450.0L197.3 451.5L198.6 452.5L199.9 453.3L201.3 454.5L202.6 455.1L204.0 456.2L205.3 456.3L206.6 456.3L208.0 456.8L209.3 457.5L210.7 458.5L212.0 457.5L213.3 456.8L214.7 458.0L216.0 458.8L217.4 458.9L218.7 458.6L220.0 458.5L221.4 458.6L222.7 458.2L224.1 457.9L225.4 456.8L226.7 456.1L228.1 456.0L229.4 455.4L230.8 455.0L232.1 453.7L233.4 453.4L234.8 453.0L236.1 452.4L237.5 452.2L238.8 452.9L240.1 454.1L241.5 454.9L242.8 455.2L244.2 455.6L245.5 456.0L246.8 455.7L248.2 455.7L249.5 455.7L250.9 454.6L252.2 452.9L253.5 451.2L254.9 448.8L256.2 445.2L257.6 441.3L258.9 436.2L260.2 430.0L261.6 423.1L262.9 416.0L264.3 409.5L265.6 403.1L266.9 398.7L268.3 395.8L269.6 394.6L269.8 394.9L271.0 395.3L272.3 398.1L273.6 403.5L275.0 409.7L276.3 416.2L277.7 422.8L279.0 428.8L280.3 435.0L281.7 440.5L283.0 445.7L284.4 450.6L285.7 454.0L287.0 457.4L288.4 460.4L289.7 462.2L291.1 463.5L292.4 465.2L293.7 466.5L295.1 467.8L296.4 470.2L297.8 471.2L299.1 471.8L300.4 472.6L301.8 473.4L303.1 474.6L304.5 475.3L305.8 476.4L307.1 477.7L308.5 478.3L309.8 478.3L311.2 478.5L312.5 479.3L313.8 480.1L315.2 480.7L316.5 481.3L317.9 482.1L319.2 482.0L320.5 481.7L321.9 483.2L323.2 483.6L324.6 483.5L325.9 483.9L327.2 484.2L328.6 484.7L329.9 486.4L331.3 487.1L332.6 486.2L333.9 485.9L335.3 486.5L336.6 487.4L338.0 487.6L339.3 487.3L340.6 488.2L342.0 489.0L343.3 488.9L344.7 488.5L346.0 488.4L347.3 488.8L348.7 488.8L350.0 489.6L351.4 490.4L352.7 490.6L354.0 491.7L355.4 492.2L356.7 491.4L358.1 491.5L359.4 492.5L360.7 492.2L362.1 491.7L363.4 492.1L364.8 492.1L366.1 492.9L367.4 492.8L368.8 492.1L370.1 493.0L371.5 493.5L372.8 493.8L374.1 494.1L375.5 494.1L376.8 494.6L378.2 494.1L379.5 493.8L380.8 494.4L382.2 494.6L383.5 495.0L384.9 494.7L386.2 494.6L387.5 495.2L388.9 495.7L390.2 495.3L391.6 495.9L392.9 497.0L394.2 495.9L395.6 495.3L396.9 496.7L398.3 497.0L399.6 496.3L400.9 496.0L402.3 495.8L403.6 495.9L405.0 495.9L406.3 496.3L407.6 496.5L409.0 496.1L410.3 495.9L411.7 496.1L413.0 496.3L414.3 496.3L415.7 497.1L417.0 497.3L418.4 497.2L419.7 497.3L421.0 497.2L422.4 497.2L423.7 497.1L425.1 497.5L426.4 497.3L427.7 497.6L429.1 498.1L430.4 497.5L431.8 497.4L433.1 497.5L434.4 497.8L435.8 497.9L437.1 498.3L438.5 498.4L439.8 497.3L441.1 497.4L442.5 497.6L443.8 498.0L445.2 499.1L446.5 499.4L447.8 498.7L449.2 498.3L450.5 499.5L451.9 500.0L453.2 499.4L454.5 499.8L455.9 500.7L457.2 500.9L458.6 500.2L459.9 500.0L461.2 500.2L462.6 500.0L463.9 499.5L465.3 499.8L466.6 500.0L467.9 500.0L469.3 500.5L470.6 501.4L472.0 501.2L473.3 500.4L474.6 500.7L476.0 501.0L477.3 501.5L478.7 501.3L480.0 500.7L481.3 500.4L482.7 500.5L484.0 501.3L485.4 501.8L486.7 501.3L488.0 501.3L489.4 501.7L490.7 502.1L492.1 502.0L493.4 501.8L494.7 501.5L496.1 501.2L497.4 502.5L498.8 502.2L500.1 501.7L501.4 502.6L502.8 502.7L504.1 502.4L505.5 502.6L506.8 502.9L508.1 503.0L509.5 502.5L510.8 502.5L512.2 503.0L513.5 502.9L514.8 503.4L516.2 503.9L517.5 504.2L518.9 503.9L520.2 503.9L521.5 504.6L522.9 504.7L524.2 504.9L525.6 504.5L526.9 504.1L528.2 504.5L529.6 504.1L530.9 504.0L532.3 504.3L533.6 504.2L534.9 503.9L536.3 503.7L537.6 504.4L539.0 505.1L540.3 505.5L541.6 505.2L543.0 504.8L544.3 504.6L545.7 504.9L547.0 505.2L548.3 505.3L549.7 506.0L551.0 505.9L552.4 504.8L553.7 504.6L555.0 504.6L556.4 504.6L557.7 505.5L559.1 506.1L560.4 505.2L561.7 505.3L563.1 506.3L564.4 506.0L565.8 505.4L567.1 505.4L568.4 505.8L569.8 506.2L571.1 506.5L572.5 506.7L573.8 506.8L575.1 506.8L576.5 506.7L577.8 505.7L579.2 505.5L580.5 506.1L581.8 506.0L583.2 506.2L584.5 506.2L585.9 505.6L587.2 506.2L588.5 506.8L589.9 506.3L591.2 506.4L592.6 506.7L593.9 506.4L595.2 505.2L596.6 504.8L597.9 505.4L599.3 505.3L600.6 505.4L601.9 506.1L603.3 505.8L604.6 504.9L606.0 505.6L607.3 505.8L608.6 504.5L610.0 504.6L611.3 505.0L612.7 504.5L614.0 504.4L615.3 504.3L616.7 503.5L618.0 503.4L619.4 503.7L620.7 503.1L622.0 502.5L623.4 502.3L624.7 502.6L626.1 501.8L627.4 500.6L628.7 500.1L630.1 498.6L631.4 497.8L632.8 496.8L634.1 495.5L635.4 493.6L636.8 490.9L638.1 488.2L639.5 485.9L640.8 483.2L642.1 480.0L643.5 476.1L644.8 471.9L646.2 468.0L647.5 463.4L648.8 458.3L650.2 454.3L651.5 451.8L652.9 451.4L653.4 451.5L654.2 451.7L655.5 453.9L656.9 457.2L658.2 461.5L659.6 465.7L660.9 470.4L662.2 475.6L663.6 480.7L664.9 485.0L666.3 488.9L667.6 493.1L668.9 495.4L670.3 497.3L671.6 499.4L673.0 500.8L674.3 502.4L675.6 503.0L677.0 503.4L678.3 503.1L679.7 503.3L681.0 503.5L682.3 503.0L683.7 502.9L685.0 501.3L686.4 500.3L687.7 500.5L689.0 500.4L690.4 499.4L691.7 497.8L693.1 496.0L694.4 495.1L695.7 494.9L697.1 493.1L698.4 491.3L699.8 489.7L701.1 489.4L702.4 490.5L703.5 490.4L703.8 489.9L705.1 490.4L706.5 490.6L707.8 492.3L709.1 493.8L710.5 495.2L711.8 497.6L713.2 500.0L714.5 501.9L715.8 503.5L717.2 504.8L718.5 505.7L719.9 507.2L721.2 508.6L722.5 509.0L723.9 509.7L725.2 510.6L726.6 511.0L727.9 511.1L729.2 511.6L730.6 512.5L731.9 513.5L733.3 514.3L734.6 513.9L735.9 513.2L737.3 514.2L738.6 514.5L740.0 514.3L741.3 515.1L742.6 515.3L744.0 514.5L745.3 514.3L746.7 515.0L748.0 515.7L749.3 515.3L750.7 515.1L752.0 515.9L753.4 516.6L754.7 516.3L756.0 516.4L757.4 517.0L758.7 516.3L760.1 516.1L761.4 516.9L762.7 516.9L764.1 516.0L765.4 516.1L766.8 517.1L768.1 517.7L769.4 516.7L770.8 517.0L772.1 517.3L773.5 516.7L774.8 517.5L776.1 517.4L777.5 517.0L778.8 516.2L780.2 516.3L781.5 516.3L782.8 515.2L784.2 516.3L785.5 517.3L786.9 516.9L788.2 516.2L789.5 516.0L790.9 516.7L792.2 516.7L793.6 516.0L794.9 515.0L796.2 514.8L797.6 514.4L798.9 513.7L800.3 514.4L801.6 514.5L802.9 514.2L804.3 514.4L805.6 515.0L807.0 515.3L808.3 514.4L809.6 514.1L811.0 513.6L812.3 512.8L813.7 513.1L815.0 512.4L816.3 511.5L817.7 511.0L819.0 510.5L820.4 510.7L821.7 509.5L823.0 508.0L824.4 506.7L825.7 504.8L827.1 503.0L828.4 502.1L829.7 501.4L831.1 499.0L832.4 495.9L833.8 494.0L835.1 492.4L836.4 491.1L837.8 490.6L838.5 490.3L839.1 490.4L840.5 490.8L841.8 491.9L843.1 493.4L844.5 495.6L845.8 498.1L847.2 500.5L848.5 502.8L849.8 504.7L851.2 506.9L852.5 507.7L853.9 508.3L855.2 509.3L856.5 510.5L857.9 511.8L859.2 512.1L860.6 511.6L861.9 511.9L863.2 511.6L864.6 511.6L865.9 511.9L867.3 510.4L868.6 511.5L869.9 512.9L871.3 511.6L872.6 511.0L874.0 511.2L875.3 511.1L876.6 510.5L878.0 510.2L879.3 510.7L880.7 510.8L882.0 510.9L883.3 510.7L884.7 510.8L886.0 510.3L887.4 509.4L888.7 508.6L890.0 507.8L891.4 508.5L892.7 508.2L894.1 507.5L895.4 507.2L896.7 506.1L898.1 505.2L899.4 504.5L900.8 503.4L902.1 502.5L903.4 501.3L904.8 498.8L906.1 495.8L907.5 492.9L908.8 489.2L910.1 484.6L911.5 479.5L912.8 472.2L914.2 462.6L915.5 452.1L916.8 440.2L918.2 427.0L919.5 412.7L920.9 397.7L922.2 382.4L923.5 367.6L924.9 353.7L926.2 341.8L927.6 333.5L928.9 330.7L929.2 331.2L930.2 332.7L931.6 338.5L932.9 347.9L934.3 360.4L935.6 375.3L936.9 392.9L938.3 409.5L939.6 426.1L941.0 443.3L942.3 457.9L943.6 470.7L945.0 482.4L946.3 491.4L947.7 498.8L949.0 504.9L950.3 509.3L951.7 513.0L953.0 515.9L954.4 518.2L955.7 520.0L957.0 520.6L958.4 522.0L959.7 523.5L961.1 523.6L962.4 523.6L963.7 523.7L965.1 524.5L966.4 525.1L967.8 524.7L969.1 525.2L970.4 527.2L971.8 526.6L973.1 526.3L974.5 527.5L975.8 527.4L977.1 528.1L978.5 528.0L979.8 527.9L981.2 529.1L982.5 529.2L983.8 528.7L985.2 529.0L986.5 529.1L987.9 529.7L989.2 529.6L990.5 529.5L991.9 529.5L993.2 529.5L994.6 530.0L995.9 529.0L997.2 529.1L998.6 529.7L999.9 529.7L1001.3 530.7L1002.6 530.5L1003.9 529.7L1005.3 530.7L1006.6 531.2L1008.0 531.3L1009.3 531.4L1010.6 530.6L1012.0 530.5L1013.3 531.4L1014.7 531.8L1016.0 531.4L1017.3 531.1L1018.7 531.2L1020.0 531.0L1021.4 531.8L1022.7 532.0L1024.0 531.0L1025.4 530.9L1026.7 531.6L1028.1 532.0L1029.4 531.8L1030.7 531.3L1032.1 531.4L1033.4 531.1L1034.8 530.7L1036.1 531.6L1037.4 532.0L1038.8 531.9L1040.1 532.5L1041.5 532.6L1042.8 532.2L1044.1 532.8L1045.5 533.1L1046.8 532.2L1048.2 532.3L1049.5 532.6L1050.8 532.1L1052.2 532.0L1053.5 532.3L1054.9 531.6L1056.2 531.6L1057.5 532.3L1058.9 532.2L1060.2 531.8L1061.6 531.8L1062.9 532.4L1064.2 532.6L1065.6 532.3L1066.9 532.5L1068.3 532.5L1069.6 532.2L1070.9 533.2L1072.3 533.0L1073.6 532.4L1075.0 533.1L1076.3 533.1L1077.6 532.7L1079.0 532.9L1080.3 533.4L1081.7 532.6L1083.0 532.0L1084.3 532.4L1085.7 532.4L1087.0 532.4L1088.4 532.6L1089.7 533.0L1091.0 533.0L1092.4 533.0L1093.7 533.4L1095.1 533.2L1096.4 533.1L1097.7 534.0L1099.1 534.0L1100.4 533.3L1101.8 533.2L1103.1 533.1L1104.4 533.2L1105.8 533.9L1107.1 533.5L1108.5 533.2L1109.8 533.9L1111.1 533.8L1112.5 533.5L1113.8 533.4L1115.2 533.0L1116.5 533.2L1117.8 534.3L1119.2 534.4L1120.5 533.5L1121.9 533.5L1123.2 533.6L1124.5 534.1L1125.9 534.2L1127.2 534.7L1128.6 534.8L1129.9 534.6L1131.2 534.6L1132.6 534.4L1133.9 533.8L1135.3 533.6L1136.6 534.1L1137.9 534.1L1139.3 533.4L1140.6 533.9L1142.0 534.5L1143.3 534.1L1144.6 534.2L1146.0 534.3L1147.3 534.5L1148.7 534.2L1150.0 533.8L1151.3 534.4L1152.7 534.8L1154.0 534.6L1155.4 534.4L1156.7 534.3L1158.0 534.5L1159.4 535.2L1160.7 534.9L1162.1 535.1L1163.4 535.8L1164.7 535.2L1166.1 535.2L1167.4 535.0L1168.8 534.2L1170.1 534.3L1171.4 534.8L1172.8 535.2L1174.1 535.3L1175.5 535.5L1176.8 535.1L1178.1 535.3L1179.5 535.6L1180.8 535.3L1182.2 535.8L1183.5 535.7L1184.8 535.5L1186.2 535.7L1187.5 536.2L1188.9 536.9L1190.2 537.2L1191.5 536.8L1192.9 536.4L1194.2 536.6L1195.6 537.1L1196.9 536.8L1198.2 537.2L1199.6 537.9L1200.9 537.3L1202.3 537.7L1203.6 538.4L1204.9 538.6L1206.3 538.7L1207.6 538.7L1209.0 538.9L1210.3 539.4L1211.6 539.0L1213.0 539.2L1214.3 539.4L1215.7 539.0L1217.0 538.8L1218.3 538.7L1219.7 539.4L1221.0 539.1L1222.4 539.2L1223.7 539.8L1225.0 539.8L1226.4 539.0L1227.7 538.9L1229.1 540.0L1230.4 539.8L1231.7 539.7L1233.1 539.2L1234.4 539.4L1235.8 540.1L1237.1 540.2L1238.4 539.9L1239.8 539.8L1241.1 540.4L1242.5 540.5L1243.8 540.3L1245.1 539.9L1246.5 541.0L1247.8 541.0L1249.2 540.0L1250.5 540.3L1251.8 540.2L1253.2 540.7L1254.5 541.7L1255.9 541.1L1257.2 539.9L1258.5 540.6L1259.9 541.6L1261.2 541.6L1262.6 541.6L1263.9 541.1L1265.2 540.6L1266.6 540.5L1267.9 540.1L1269.3 540.9L1270.6 541.2L1271.9 541.7L1273.3 542.0L1274.6 541.0L1276.0 541.3L1277.3 542.2L1278.6 542.1L1280.0 541.1L1281.3 541.1L1282.7 542.0L1284.0 541.8L1285.3 541.1L1286.7 541.6L1288.0 542.0L1289.4 541.3L1290.7 541.1L1292.0 541.3L1293.4 541.5L1294.7 541.9L1296.1 542.2L1297.4 542.4L1298.7 541.6L1300.1 541.5L1301.4 542.4L1302.8 542.4L1304.1 542.5L1305.4 542.2L1306.8 541.6L1308.1 542.1L1309.5 542.1L1310.8 541.1L1312.1 541.9L1313.5 542.4L1314.8 542.0L1316.2 541.8L1317.5 541.5L1318.8 541.6L1320.2 542.0L1321.5 542.5L1322.9 541.9L1324.2 542.1L1325.5 542.5L1326.9 541.9L1328.2 542.6L1329.6 543.0L1330.9 542.3L1332.2 543.0L1333.6 543.3L1334.9 542.8L1336.3 543.2L1337.6 543.6L1338.9 543.4L1340.3 543.3L1341.6 543.3L1343.0 543.4L1344.3 543.4L1345.6 543.0L1347.0 543.9L1348.3 544.2"/>
<path stroke="#008000" stroke-width="4.3" d="M145.0 272.4L146.3 272.1L147.7 273.2L149.0 275.1L150.4 275.8L151.7 275.5L153.0 275.1L154.4 276.1L155.7 277.1L157.1 276.2L158.4 276.2L159.7 277.0L161.1 277.0L162.4 277.0L163.8 275.1L165.1 275.5L166.4 274.7L167.8 276.6L169.1 277.0L170.5 279.3L171.8 280.0L173.1 281.4L174.5 279.4L175.8 279.2L177.2 279.8L178.5 282.6L179.8 282.3L181.2 282.4L182.5 282.0L183.9 283.1L185.2 284.9L186.5 285.5L187.9 286.5L189.2 286.6L190.6 287.0L191.9 287.1L193.2 286.5L194.6 287.2L195.9 286.3L197.3 286.4L198.6 287.7L199.9 287.5L201.3 288.3L202.6 287.3L204.0 288.1L205.3 289.2L206.6 289.9L208.0 289.4L209.3 287.8L210.7 287.6L212.0 288.6L213.3 289.1L214.7 288.6L216.0 289.4L217.4 290.1L218.7 289.5L220.0 289.1L221.4 287.4L222.7 288.1L224.1 286.9L225.4 286.7L226.7 286.4L228.1 288.2L229.4 289.7L230.8 288.7L232.1 287.1L233.4 286.6L234.8 285.9L236.1 286.1L237.5 285.3L238.8 288.1L240.1 289.0L241.5 288.6L242.8 286.9L244.2 285.9L245.5 287.2L246.8 286.9L248.2 286.4L249.5 284.9L250.9 284.6L252.2 284.0L253.5 281.7L254.9 280.3L256.2 277.9L257.6 276.5L258.9 271.7L260.2 264.0L261.6 252.2L262.9 236.3L264.3 219.1L265.6 198.9L266.9 181.9L268.3 168.6L269.0 167.2L269.6 166.4L271.0 175.8L272.3 192.5L273.6 213.4L275.0 234.9L276.3 253.8L277.7 266.6L279.0 274.9L280.3 278.9L281.7 283.7L283.0 286.2L284.4 287.2L285.7 288.2L287.0 289.4L288.4 289.1L289.7 288.8L291.1 288.7L292.4 289.0L293.7 289.6L295.1 289.0L296.4 291.1L297.8 291.2L299.1 292.3L300.4 291.1L301.8 291.0L303.1 289.4L304.5 289.1L305.8 289.8L307.1 289.9L308.5 291.8L309.8 290.2L311.2 293.0L312.5 291.7L313.8 294.1L315.2 293.8L316.5 293.4L317.9 294.0L319.2 295.4L320.5 296.9L321.9 295.7L323.2 294.5L324.6 293.8L325.9 295.2L327.2 295.0L328.6 296.0L329.9 294.5L331.3 294.5L332.6 293.6L333.9 295.5L335.3 296.1L336.6 298.2L338.0 297.2L339.3 296.8L340.6 295.8L342.0 295.4L343.3 296.2L344.7 296.2L346.0 296.6L347.3 295.5L348.7 295.2L350.0 297.0L351.4 297.7L352.7 297.6L354.0 296.4L355.4 298.3L356.7 298.0L358.1 297.6L359.4 295.8L360.7 295.5L362.1 296.4L363.4 297.0L364.8 298.6L366.1 297.3L367.4 297.7L368.8 297.2L370.1 297.8L371.5 296.4L372.8 295.8L374.1 297.1L375.5 297.7L376.8 299.0L378.2 297.8L379.5 297.9L380.8 297.2L382.2 297.8L383.5 297.9L384.9 298.3L386.2 297.7L387.5 299.1L388.9 299.8L390.2 300.2L391.6 298.6L392.9 296.8L394.2 297.3L395.6 298.7L396.9 299.8L398.3 299.4L399.6 299.3L400.9 300.2L402.3 300.5L403.6 299.4L405.0 300.0L406.3 298.1L407.6 299.3L409.0 298.4L410.3 300.3L411.7 301.2L413.0 302.1L414.3 300.3L415.7 297.1L417.0 296.5L418.4 296.6L419.7 298.1L421.0 298.2L422.4 297.6L423.7 295.7L425.1 295.2L426.4 296.7L427.7 298.4L429.1 298.2L430.4 297.4L431.8 296.3L433.1 296.1L434.4 296.0L435.8 295.9L437.1 296.5L438.5 297.3L439.8 299.1L441.1 297.8L442.5 297.3L443.8 296.0L445.2 296.1L446.5 296.9L447.8 297.1L449.2 298.2L450.5 298.3L451.9 300.8L453.2 299.2L454.5 299.7L455.9 297.8L457.2 299.1L458.6 297.0L459.9 296.6L461.2 297.3L462.6 298.5L463.9 299.0L465.3 298.1L466.6 299.2L467.9 299.1L469.3 297.4L470.6 295.8L472.0 294.0L473.3 293.1L474.6 293.2L476.0 296.2L477.3 299.1L478.7 298.5L480.0 296.5L481.3 297.5L482.7 298.7L484.0 299.5L485.4 298.5L486.7 298.4L488.0 299.0L489.4 299.6L490.7 299.7L492.1 298.1L493.4 298.0L494.7 297.2L496.1 299.1L497.4 297.6L498.8 298.0L500.1 297.1L501.4 297.0L502.8 298.7L504.1 300.0L505.5 300.7L506.8 299.9L508.1 298.9L509.5 297.0L510.8 296.5L512.2 296.1L513.5 298.5L514.8 297.4L516.2 297.2L517.5 296.9L518.9 298.9L520.2 299.5L521.5 299.6L522.9 299.9L524.2 299.1L525.6 298.8L526.9 295.8L528.2 297.7L529.6 298.9L530.9 301.3L532.3 300.5L533.6 299.8L534.9 299.1L536.3 298.3L537.6 298.0L539.0 297.9L540.3 299.4L541.6 300.1L543.0 300.0L544.3 298.1L545.7 297.1L547.0 298.5L548.3 299.5L549.7 300.1L551.0 298.4L552.4 296.9L553.7 296.8L555.0 297.8L556.4 298.5L557.7 298.3L559.1 297.3L560.4 297.7L561.7 296.5L563.1 296.5L564.4 295.6L565.8 297.8L567.1 297.3L568.4 298.5L569.8 299.1L571.1 299.5L572.5 298.4L573.8 297.2L575.1 297.4L576.5 297.1L577.8 297.3L579.2 299.0L580.5 299.7L581.8 299.0L583.2 296.3L584.5 296.8L585.9 295.8L587.2 295.7L588.5 296.5L589.9 296.8L591.2 298.7L592.6 298.9L593.9 299.9L595.2 299.4L596.6 299.7L597.9 299.3L599.3 298.2L600.6 295.2L601.9 295.4L603.3 297.1L604.6 299.1L606.0 298.2L607.3 296.0L608.6 294.7L610.0 295.7L611.3 296.2L612.7 296.7L614.0 296.6L615.3 296.4L616.7 296.1L618.0 295.9L619.4 295.9L620.7 296.2L622.0 297.5L623.4 297.9L624.7 297.2L626.1 293.8L627.4 293.3L628.7 291.1L630.1 290.9L631.4 290.8L632.8 292.4L634.1 292.7L635.4 289.3L636.8 286.9L638.1 284.5L639.5 284.0L640.8 282.8L642.1 279.1L643.5 272.2L644.8 262.3L646.2 254.1L647.5 246.2L648.8 238.2L650.2 232.6L651.4 229.8L651.5 231.9L652.9 235.4L654.2 244.0L655.5 251.4L656.9 260.5L658.2 268.4L659.6 276.3L660.9 281.7L662.2 285.3L663.6 287.5L664.9 290.7L666.3 293.1L667.6 295.4L668.9 296.2L670.3 295.2L671.6 294.5L673.0 294.0L674.3 296.0L675.6 296.5L677.0 297.3L678.3 297.2L679.7 296.4L681.0 294.7L682.3 295.2L683.7 296.6L685.0 295.7L686.4 296.0L687.7 296.0L689.0 298.6L690.4 296.7L691.7 295.3L693.1 292.4L694.4 294.0L695.7 292.8L697.1 293.6L698.4 288.8L699.8 286.9L701.1 281.5L702.4 279.3L703.8 277.8L705.1 276.8L706.3 277.7L706.5 277.1L707.8 278.0L709.1 278.3L710.5 279.9L711.8 283.5L713.2 286.1L714.5 288.4L715.8 290.4L717.2 291.9L718.5 293.0L719.9 294.3L721.2 296.9L722.5 297.3L723.9 297.8L725.2 296.8L726.6 297.5L727.9 298.4L729.2 298.7L730.6 301.0L731.9 299.6L733.3 300.5L734.6 299.0L735.9 299.1L737.3 299.3L738.6 299.4L740.0 300.6L741.3 300.1L742.6 299.3L744.0 298.7L745.3 298.8L746.7 300.6L748.0 299.9L749.3 299.8L750.7 297.4L752.0 298.8L753.4 297.9L754.7 297.8L756.0 297.2L757.4 299.1L758.7 299.4L760.1 298.5L761.4 296.8L762.7 297.2L764.1 298.5L765.4 298.4L766.8 298.7L768.1 298.9L769.4 299.0L770.8 300.0L772.1 298.6L773.5 298.2L774.8 296.1L776.1 298.6L777.5 299.4L778.8 301.2L780.2 299.5L781.5 299.9L782.8 299.7L784.2 301.4L785.5 300.3L786.9 298.9L788.2 296.2L789.5 295.9L790.9 298.0L792.2 299.5L793.6 299.8L794.9 297.9L796.2 296.8L797.6 298.8L798.9 297.5L800.3 298.2L801.6 295.9L802.9 299.3L804.3 297.7L805.6 298.3L807.0 296.0L808.3 295.9L809.6 297.3L811.0 299.2L812.3 299.5L813.7 297.3L815.0 294.6L816.3 294.3L817.7 294.7L819.0 295.8L820.4 295.5L821.7 293.7L823.0 292.8L824.4 291.7L825.7 292.4L827.1 292.3L828.4 290.1L829.7 285.8L831.1 281.3L832.4 277.9L833.8 274.9L835.1 272.0L836.4 269.4L837.8 269.5L838.3 269.3L839.1 270.7L840.5 271.4L841.8 273.2L843.1 275.2L844.5 278.5L845.8 282.0L847.2 286.2L848.5 289.2L849.8 290.8L851.2 292.5L852.5 292.7L853.9 294.5L855.2 294.9L856.5 294.8L857.9 295.8L859.2 296.5L860.6 298.3L861.9 298.0L863.2 297.6L864.6 296.9L865.9 297.1L867.3 296.9L868.6 297.8L869.9 297.0L871.3 297.6L872.6 297.6L874.0 298.5L875.3 297.9L876.6 298.2L878.0 296.7L879.3 297.4L880.7 297.0L882.0 298.6L883.3 298.4L884.7 297.5L886.0 296.8L887.4 296.8L888.7 297.6L890.0 297.8L891.4 295.6L892.7 295.4L894.1 295.9L895.4 297.8L896.7 297.1L898.1 294.2L899.4 293.6L900.8 292.7L902.1 291.2L903.4 289.9L904.8 287.8L906.1 287.9L907.5 285.8L908.8 286.8L910.1 285.9L911.5 284.5L912.8 282.2L914.2 280.4L915.5 275.4L916.8 267.3L918.2 256.5L919.5 245.0L920.9 231.6L922.2 215.6L923.5 195.2L924.9 171.5L926.2 144.1L927.6 118.0L928.9 96.1L930.2 84.7L930.9 84.1L931.6 85.2L932.9 94.5L934.3 112.3L935.6 134.7L936.9 159.7L938.3 185.9L939.6 210.8L941.0 233.6L942.3 248.9L943.6 262.2L945.0 271.7L946.3 279.9L947.7 283.4L949.0 287.2L950.3 291.2L951.7 295.2L953.0 296.2L954.4 296.2L955.7 297.2L957.0 295.8L958.4 296.1L959.7 296.3L961.1 299.6L962.4 301.6L963.7 302.3L965.1 302.2L966.4 301.2L967.8 301.1L969.1 300.5L970.4 300.4L971.8 300.7L973.1 303.0L974.5 303.1L975.8 302.3L977.1 300.9L978.5 302.4L979.8 302.5L981.2 303.7L982.5 301.8L983.8 301.7L985.2 300.3L986.5 302.0L987.9 303.2L989.2 302.1L990.5 300.7L991.9 300.1L993.2 300.9L994.6 300.4L995.9 301.1L997.2 302.2L998.6 304.1L999.9 302.8L1001.3 303.3L1002.6 302.7L1003.9 304.1L1005.3 302.4L1006.6 301.9L1008.0 301.2L1009.3 301.4L1010.6 302.8L1012.0 302.9L1013.3 302.7L1014.7 302.2L1016.0 301.7L1017.3 303.4L1018.7 302.8L1020.0 302.7L1021.4 303.0L1022.7 305.6L1024.0 307.8L1025.4 306.8L1026.7 305.0L1028.1 304.6L1029.4 304.5L1030.7 303.4L1032.1 302.2L1033.4 302.7L1034.8 302.9L1036.1 301.3L1037.4 299.7L1038.8 301.0L1040.1 301.8L1041.5 303.0L1042.8 302.6L1044.1 303.9L1045.5 303.7L1046.8 304.0L1048.2 302.7L1049.5 302.6L1050.8 301.3L1052.2 303.1L1053.5 303.4L1054.9 303.7L1056.2 302.4L1057.5 302.2L1058.9 303.5L1060.2 302.5L1061.6 301.7L1062.9 300.8L1064.2 304.5L1065.6 306.3L1066.9 306.5L1068.3 304.9L1069.6 305.9L1070.9 305.8L1072.3 304.9L1073.6 304.1L1075.0 304.8L1076.3 305.7L1077.6 304.2L1079.0 305.5L1080.3 306.4L1081.7 307.4L1083.0 306.3L1084.3 303.0L1085.7 303.1L1087.0 302.3L1088.4 304.5L1089.7 304.6L1091.0 304.5L1092.4 302.6L1093.7 302.3L1095.1 302.0L1096.4 303.2L1097.7 302.4L1099.1 302.7L1100.4 301.0L1101.8 302.6L1103.1 303.2L1104.4 306.2L1105.8 306.9L1107.1 306.7L1108.5 304.1L1109.8 301.6L1111.1 300.5L1112.5 301.7L1113.8 302.6L1115.2 301.9L1116.5 302.6L1117.8 301.2L1119.2 303.3L1120.5 302.9L1121.9 304.0L1123.2 303.7L1124.5 303.3L1125.9 303.1L1127.2 301.6L1128.6 302.1L1129.9 304.3L1131.2 307.6L1132.6 308.8L1133.9 307.8L1135.3 305.4L1136.6 305.6L1137.9 304.9L1139.3 305.4L1140.6 303.9L1142.0 304.1L1143.3 303.8L1144.6 303.9L1146.0 302.9L1147.3 303.0L1148.7 305.1L1150.0 306.0L1151.3 306.1L1152.7 304.6L1154.0 305.3L1155.4 304.5L1156.7 303.9L1158.0 304.1L1159.4 305.3L1160.7 305.7L1162.1 306.2L1163.4 305.4L1164.7 305.4L1166.1 303.6L1167.4 305.5L1168.8 303.7L1170.1 303.6L1171.4 301.8L1172.8 304.1L1174.1 305.3L1175.5 307.0L1176.8 305.0L1178.1 305.2L1179.5 303.7L1180.8 304.5L1182.2 304.3L1183.5 303.8L1184.8 302.6L1186.2 301.8L1187.5 301.3L1188.9 302.6L1190.2 303.2L1191.5 304.9L1192.9 306.9L1194.2 306.4L1195.6 304.8L1196.9 302.7L1198.2 302.1L1199.6 302.4L1200.9 303.4L1202.3 303.7L1203.6 303.1L1204.9 303.3L1206.3 303.8L1207.6 305.9L1209.0 305.4L1210.3 306.1L1211.6 305.8L1213.0 306.8L1214.3 306.7L1215.7 307.0L1217.0 306.3L1218.3 304.6L1219.7 304.2L1221.0 303.6L1222.4 305.1L1223.7 304.0L1225.0 305.8L1226.4 305.7L1227.7 305.8L1229.1 302.9L1230.4 302.6L1231.7 303.6L1233.1 304.5L1234.4 304.9L1235.8 304.4L1237.1 305.5L1238.4 304.8L1239.8 305.4L1241.1 305.8L1242.5 308.8L1243.8 307.9L1245.1 306.7L1246.5 303.7L1247.8 305.3L1249.2 304.7L1250.5 305.0L1251.8 304.3L1253.2 304.5L1254.5 304.1L1255.9 303.8L1257.2 302.8L1258.5 302.4L1259.9 302.5L1261.2 304.5L1262.6 305.6L1263.9 304.5L1265.2 303.9L1266.6 304.9L1267.9 307.0L1269.3 307.3L1270.6 305.9L1271.9 306.0L1273.3 305.5L1274.6 305.3L1276.0 304.1L1277.3 305.9L1278.6 307.2L1280.0 309.0L1281.3 307.3L1282.7 308.0L1284.0 306.4L1285.3 306.7L1286.7 308.2L1288.0 309.4L1289.4 309.1L1290.7 306.9L1292.0 306.5L1293.4 308.1L1294.7 307.8L1296.1 306.0L1297.4 304.7L1298.7 305.2L1300.1 306.8L1301.4 308.3L1302.8 308.6L1304.1 309.3L1305.4 307.2L1306.8 307.7L1308.1 308.9L1309.5 310.6L1310.8 310.1L1312.1 308.4L1313.5 309.4L1314.8 308.4L1316.2 308.2L1317.5 307.0L1318.8 308.6L1320.2 308.3L1321.5 308.3L1322.9 307.4L1324.2 308.0L1325.5 307.6L1326.9 306.9L1328.2 306.8L1329.6 307.8L1330.9 308.0L1332.2 307.9L1333.6 307.7L1334.9 307.7L1336.3 308.1L1337.6 306.7L1338.9 308.7L1340.3 310.6L1341.6 313.5L1343.0 312.3L1344.3 311.0L1345.6 309.3L1347.0 309.7L1348.3 310.5"/>
</g>
<g font-family="'Liberation Sans', sans-serif" fill="#000">
<g font-size="53.8px">
<text transform="translate(237.0 1284.6) scale(0.9591 1)" x="0.00 29.19 58.39">200</text>
<text transform="translate(505.5 1284.6) scale(0.9591 1)" x="0.00 29.19 58.39">400</text>
<text transform="translate(773.5 1284.6) scale(0.9591 1)" x="0.00 29.19 58.39">600</text>
<text transform="translate(1041.5 1284.6) scale(0.9591 1)" x="0.00 29.19 58.39">800</text>
<text transform="translate(1296.0 1284.6) scale(0.9591 1)" x="1.79 29.19 58.39 87.58">1000</text>
<text transform="translate(238.0 149.0) scale(0.9591 1)" x="1.79 29.19 58.39">192</text>
<text transform="translate(597.0 215.8) scale(0.9591 1)" x="0.00 29.19 58.39">477</text>
<text transform="translate(680.0 262.0) scale(0.9591 1)" x="0.00 30.98 58.39">518</text>
<text transform="translate(806.5 253.0) scale(0.9591 1)" x="0.00 30.98 58.39">616</text>
<text transform="translate(955.0 99.5) scale(0.9591 1)" x="0.00 29.19 58.39">686</text>
<text transform="translate(1071.5 264.3) scale(0.9591 1)" x="0.00 38.58">Co</text>
<text transform="translate(212.0 380.0) scale(0.9591 1)" x="1.79 29.19 58.39">193</text>
<text transform="translate(327.0 476.0) scale(0.9591 1)" x="0.00 29.19 60.17">291</text>
<text transform="translate(603.5 435.5) scale(0.9591 1)" x="0.00 29.19 58.39">480</text>
<text transform="translate(687.5 476.0) scale(0.9591 1)" x="0.00 30.98 58.39">517</text>
<text transform="translate(809.5 479.0) scale(0.9591 1)" x="0.00 30.98 58.39">618</text>
<text transform="translate(958.5 380.0) scale(0.9591 1)" x="0.00 29.19 58.39">685</text>
<text transform="translate(1071.5 497.0) scale(0.9591 1)" x="0.00 38.58 67.77 105.31 134.50 165.48">CoCu41</text>
<text transform="translate(260.0 589.0) scale(0.9591 1)" x="1.79 29.19 58.39">193</text>
<text transform="translate(341.5 691.0) scale(0.9591 1)" x="0.00 29.19 58.39">292</text>
<text transform="translate(598.5 650.8) scale(0.9591 1)" x="0.00 29.19 58.39">477</text>
<text transform="translate(685.5 693.0) scale(0.9591 1)" x="0.00 30.98 58.39">515</text>
<text transform="translate(806.5 694.0) scale(0.9591 1)" x="0.00 30.98 58.39">618</text>
<text transform="translate(952.0 612.0) scale(0.9591 1)" x="0.00 29.19 58.39">683</text>
<text transform="translate(1071.5 729.0) scale(0.9591 1)" x="0.00 38.58 67.77 105.31 136.29 165.48">CoCu11</text>
<text transform="translate(238.5 826.0) scale(0.9591 1)" x="1.79 29.19 58.39">192</text>
<text transform="translate(372.5 899.5) scale(0.9591 1)" x="0.00 29.19 58.39">292</text>
<text transform="translate(596.0 884.5) scale(0.9591 1)" x="0.00 29.19 58.39">478</text>
<text transform="translate(682.5 921.6) scale(0.9591 1)" x="0.00 30.98 58.39">515</text>
<text transform="translate(806.5 922.0) scale(0.9591 1)" x="0.00 30.98 58.39">616</text>
<text transform="translate(958.5 842.8) scale(0.9591 1)" x="0.00 29.19 58.39">685</text>
<text transform="translate(1071.5 951.0) scale(0.9591 1)" x="0.00 38.58 67.77 105.31 136.29 163.69">CoCu14</text>
<text transform="translate(290.5 1051.8) scale(0.9591 1)" x="0.00 29.19 58.39">293</text>
<text transform="translate(438.0 1098.4) scale(0.9591 1)" x="0.00 29.19 58.39">344</text>
<text transform="translate(791.5 1101.5) scale(0.9591 1)" x="0.00 30.98 58.39">618</text>
<text transform="translate(1072.0 1111.0) scale(0.9591 1)" x="0.00 37.53">Cu</text>
</g>
<text id="xl" transform="translate(491.9 1394) scale(0.9681 1)" font-size="64.3px">Raman shift / cm</text>
<text transform="translate(956.75 1367.6) scale(1.365 1)" font-size="32px">−</text>
<text transform="translate(981.8 1367.9) scale(0.963 1)" font-size="43.6px">1</text>
<text id="yl" transform="translate(57 839.9) rotate(-90) scale(0.9658 1)" font-size="64.3px">Normalized intensity</text>
</g>
</svg>
</body>
</html>
